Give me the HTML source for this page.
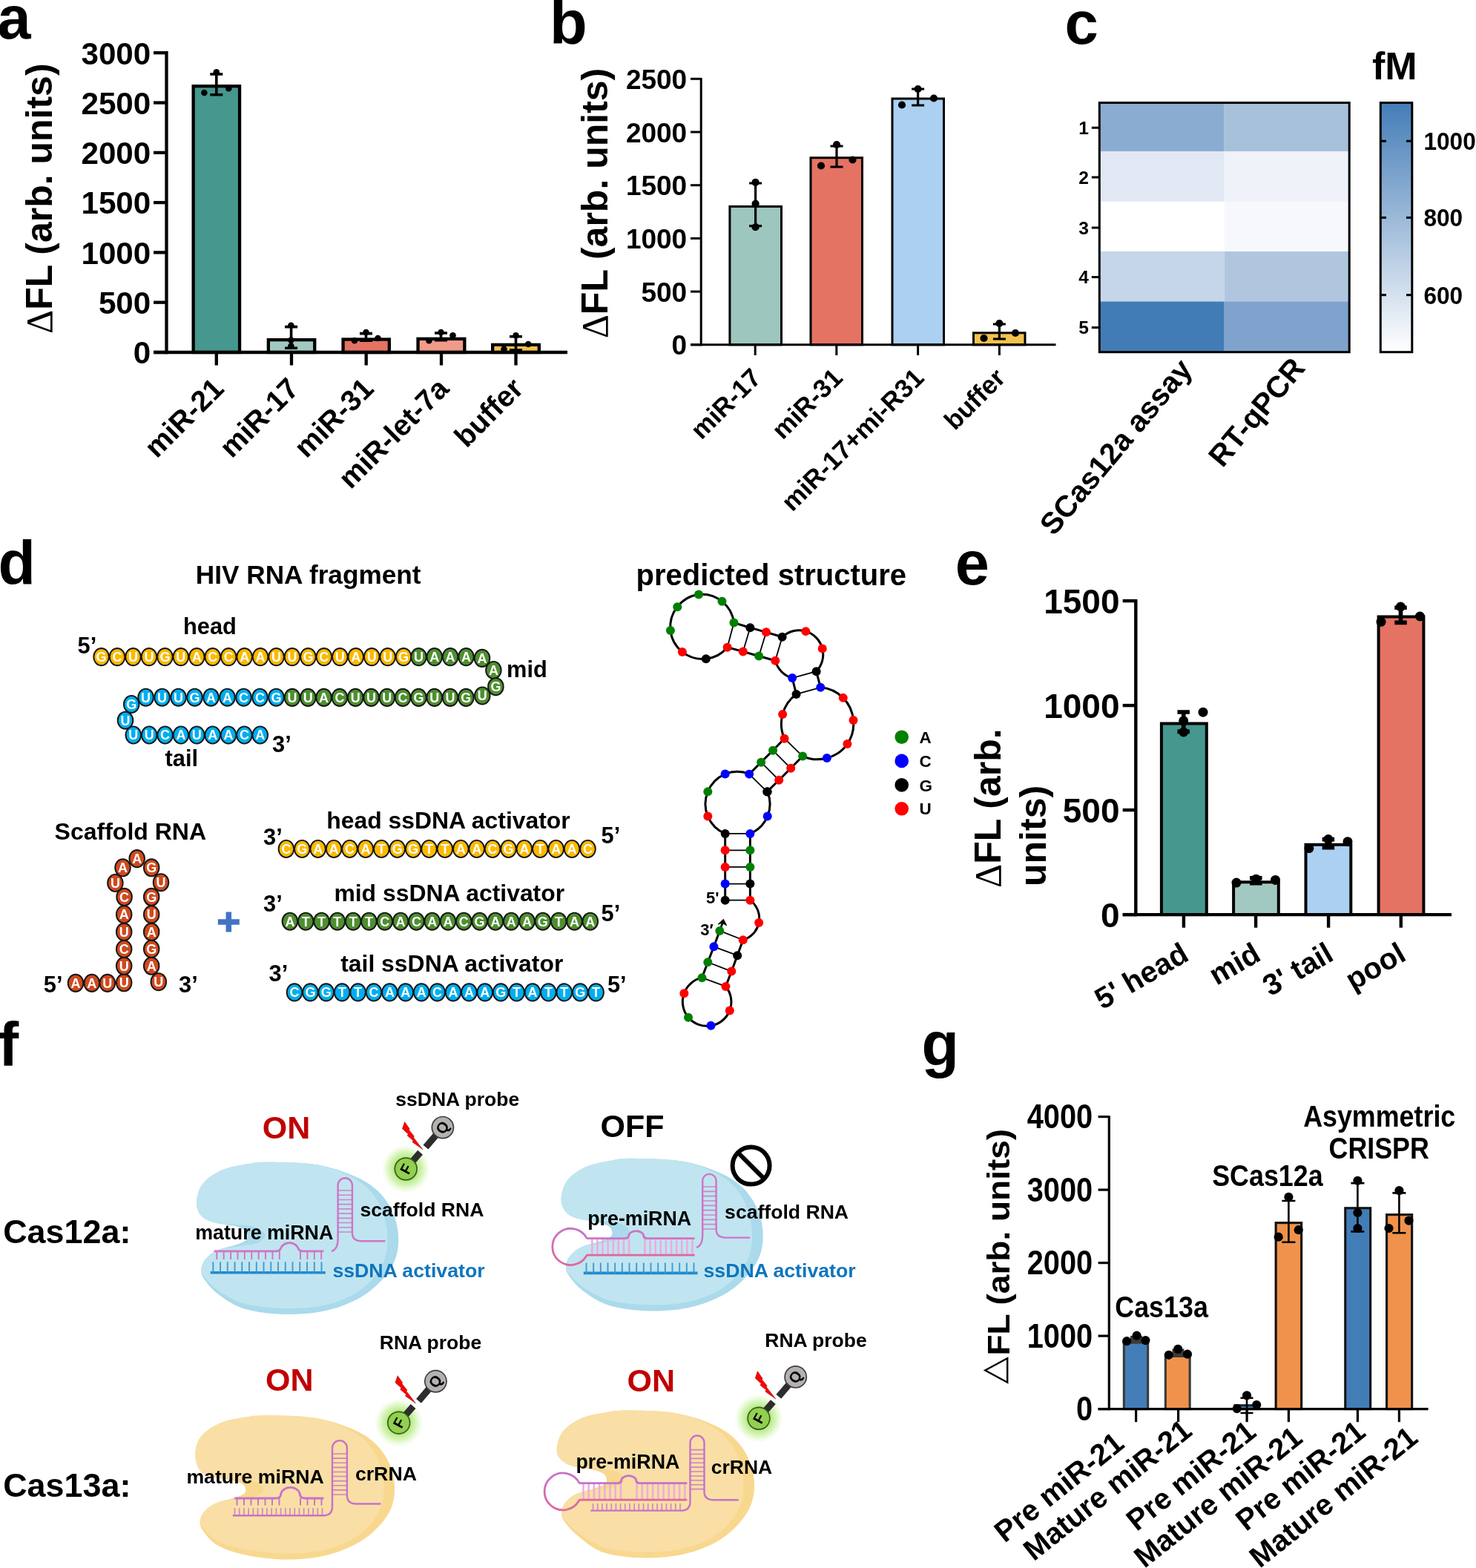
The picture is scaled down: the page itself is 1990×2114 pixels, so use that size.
<!DOCTYPE html>
<html lang="en"><head><meta charset="utf-8"><title>Figure</title><style>html,body{margin:0;padding:0;background:#fff}body{width:1990px;height:2114px;overflow:hidden}svg{display:block}</style></head><body>
<svg xmlns="http://www.w3.org/2000/svg" width="1990" height="2114" viewBox="0 0 1990 2114" font-family='"Liberation Sans", Arial, Helvetica, sans-serif' font-weight="bold">
<rect width="1990" height="2114" fill="#fff"/>
<rect x="260.65" y="116.15" width="62.40" height="358.85" fill="#46978d" stroke="#000" stroke-width="4.3"/>
<rect x="361.85" y="458.15" width="62.40" height="16.85" fill="#a1c9c1" stroke="#000" stroke-width="4.3"/>
<rect x="462.55" y="457.55" width="62.30" height="17.45" fill="#e57364" stroke="#000" stroke-width="4.3"/>
<rect x="563.55" y="456.85" width="62.80" height="18.15" fill="#f29a8a" stroke="#000" stroke-width="4.3"/>
<rect x="664.15" y="464.85" width="62.70" height="10.15" fill="#f3c24f" stroke="#000" stroke-width="4.3"/>
<line x1="224.50" y1="69.00" x2="224.50" y2="477.15" stroke="#000" stroke-width="4.3"/>
<line x1="207.40" y1="475.00" x2="765.00" y2="475.00" stroke="#000" stroke-width="4.3"/>
<line x1="207.00" y1="475.00" x2="224.50" y2="475.00" stroke="#000" stroke-width="4.3"/>
<text x="203.30" y="490.30" font-size="42.2" text-anchor="end">0</text>
<line x1="207.00" y1="407.70" x2="224.50" y2="407.70" stroke="#000" stroke-width="4.3"/>
<text x="203.30" y="423.00" font-size="42.2" text-anchor="end">500</text>
<line x1="207.00" y1="340.40" x2="224.50" y2="340.40" stroke="#000" stroke-width="4.3"/>
<text x="203.30" y="355.70" font-size="42.2" text-anchor="end">1000</text>
<line x1="207.00" y1="273.10" x2="224.50" y2="273.10" stroke="#000" stroke-width="4.3"/>
<text x="203.30" y="288.40" font-size="42.2" text-anchor="end">1500</text>
<line x1="207.00" y1="205.80" x2="224.50" y2="205.80" stroke="#000" stroke-width="4.3"/>
<text x="203.30" y="221.10" font-size="42.2" text-anchor="end">2000</text>
<line x1="207.00" y1="138.50" x2="224.50" y2="138.50" stroke="#000" stroke-width="4.3"/>
<text x="203.30" y="153.80" font-size="42.2" text-anchor="end">2500</text>
<line x1="207.00" y1="71.20" x2="224.50" y2="71.20" stroke="#000" stroke-width="4.3"/>
<text x="203.30" y="86.50" font-size="42.2" text-anchor="end">3000</text>
<line x1="291.80" y1="475.00" x2="291.80" y2="492.50" stroke="#000" stroke-width="4.3"/>
<line x1="393.00" y1="475.00" x2="393.00" y2="492.50" stroke="#000" stroke-width="4.3"/>
<line x1="493.70" y1="475.00" x2="493.70" y2="492.50" stroke="#000" stroke-width="4.3"/>
<line x1="595.00" y1="475.00" x2="595.00" y2="492.50" stroke="#000" stroke-width="4.3"/>
<line x1="695.50" y1="475.00" x2="695.50" y2="492.50" stroke="#000" stroke-width="4.3"/>
<text x="0" y="0" font-size="50" transform="translate(69.50 450.00) rotate(-90)"><tspan font-weight="normal" font-family="Liberation Serif, serif">&#916;</tspan>FL (arb. units)</text>
<path d="M283.30 100.00H300.30M283.30 127.80H300.30M291.80 100.00V127.80" stroke="#000" stroke-width="3.6" fill="none"/>
<path d="M384.10 440.60H401.10M384.10 469.20H401.10M392.60 440.60V469.20" stroke="#000" stroke-width="3.6" fill="none"/>
<path d="M485.00 449.60H502.00M485.00 459.20H502.00M493.50 449.60V459.20" stroke="#000" stroke-width="3.6" fill="none"/>
<path d="M586.00 449.00H603.00M586.00 458.60H603.00M594.50 449.00V458.60" stroke="#000" stroke-width="3.6" fill="none"/>
<path d="M687.00 453.80H704.00M687.00 472.00H704.00M695.50 453.80V472.00" stroke="#000" stroke-width="3.6" fill="none"/>
<circle cx="291.80" cy="97.30" r="4.3" fill="#000"/>
<circle cx="275.40" cy="125.00" r="4.3" fill="#000"/>
<circle cx="308.30" cy="119.30" r="4.3" fill="#000"/>
<circle cx="392.40" cy="438.70" r="4.3" fill="#000"/>
<circle cx="392.40" cy="458.60" r="4.3" fill="#000"/>
<circle cx="392.40" cy="466.60" r="4.3" fill="#000"/>
<circle cx="493.50" cy="448.00" r="4.3" fill="#000"/>
<circle cx="478.00" cy="459.20" r="4.3" fill="#000"/>
<circle cx="509.50" cy="456.00" r="4.3" fill="#000"/>
<circle cx="594.50" cy="448.00" r="4.3" fill="#000"/>
<circle cx="578.40" cy="459.20" r="4.3" fill="#000"/>
<circle cx="610.50" cy="452.20" r="4.3" fill="#000"/>
<circle cx="695.50" cy="452.20" r="4.3" fill="#000"/>
<circle cx="679.50" cy="470.80" r="4.3" fill="#000"/>
<circle cx="712.20" cy="464.00" r="4.3" fill="#000"/>
<text x="0" y="0" font-size="39.4" text-anchor="end" transform="translate(304.10 526.20) rotate(-45)">miR-21</text>
<text x="0" y="0" font-size="39.4" text-anchor="end" transform="translate(405.30 526.20) rotate(-45)">miR-17</text>
<text x="0" y="0" font-size="39.4" text-anchor="end" transform="translate(506.00 526.20) rotate(-45)">miR-31</text>
<text x="0" y="0" font-size="39.4" text-anchor="end" transform="translate(607.30 526.20) rotate(-45)">miR-let-7a</text>
<text x="0" y="0" font-size="39.4" text-anchor="end" transform="translate(707.80 526.20) rotate(-45)">buffer</text>
<rect x="983.90" y="278.40" width="69.60" height="186.40" fill="#9dc6be" stroke="#000" stroke-width="3.0"/>
<rect x="1093.00" y="212.70" width="69.50" height="252.10" fill="#e57364" stroke="#000" stroke-width="3.0"/>
<rect x="1203.00" y="133.00" width="69.50" height="331.80" fill="#abd0f1" stroke="#000" stroke-width="3.0"/>
<rect x="1312.50" y="448.80" width="69.50" height="16.00" fill="#f3c24f" stroke="#000" stroke-width="3.0"/>
<line x1="945.20" y1="105.00" x2="945.20" y2="466.30" stroke="#000" stroke-width="3.0"/>
<line x1="931.00" y1="464.80" x2="1423.50" y2="464.80" stroke="#000" stroke-width="3.0"/>
<line x1="931.00" y1="464.80" x2="945.20" y2="464.80" stroke="#000" stroke-width="3.0"/>
<text x="926.20" y="478.40" font-size="37.0" text-anchor="end">0</text>
<line x1="931.00" y1="393.10" x2="945.20" y2="393.10" stroke="#000" stroke-width="3.0"/>
<text x="926.20" y="406.70" font-size="37.0" text-anchor="end">500</text>
<line x1="931.00" y1="321.40" x2="945.20" y2="321.40" stroke="#000" stroke-width="3.0"/>
<text x="926.20" y="335.00" font-size="37.0" text-anchor="end">1000</text>
<line x1="931.00" y1="249.70" x2="945.20" y2="249.70" stroke="#000" stroke-width="3.0"/>
<text x="926.20" y="263.30" font-size="37.0" text-anchor="end">1500</text>
<line x1="931.00" y1="178.00" x2="945.20" y2="178.00" stroke="#000" stroke-width="3.0"/>
<text x="926.20" y="191.60" font-size="37.0" text-anchor="end">2000</text>
<line x1="931.00" y1="106.30" x2="945.20" y2="106.30" stroke="#000" stroke-width="3.0"/>
<text x="926.20" y="119.90" font-size="37.0" text-anchor="end">2500</text>
<line x1="1018.20" y1="464.80" x2="1018.20" y2="479.00" stroke="#000" stroke-width="3.0"/>
<line x1="1127.80" y1="464.80" x2="1127.80" y2="479.00" stroke="#000" stroke-width="3.0"/>
<line x1="1237.60" y1="464.80" x2="1237.60" y2="479.00" stroke="#000" stroke-width="3.0"/>
<line x1="1347.40" y1="464.80" x2="1347.40" y2="479.00" stroke="#000" stroke-width="3.0"/>
<text x="0" y="0" font-size="50" transform="translate(819.00 456.30) rotate(-90)"><tspan font-weight="normal" font-family="Liberation Serif, serif">&#916;</tspan>FL (arb. units)</text>
<path d="M1010.10 247.00H1027.10M1010.10 304.60H1027.10M1018.60 247.00V304.60" stroke="#000" stroke-width="3.2" fill="none"/>
<path d="M1119.50 197.00H1136.50M1119.50 225.00H1136.50M1128.00 197.00V225.00" stroke="#000" stroke-width="3.2" fill="none"/>
<path d="M1229.10 120.00H1246.10M1229.10 142.00H1246.10M1237.60 120.00V142.00" stroke="#000" stroke-width="3.2" fill="none"/>
<path d="M1338.90 437.00H1355.90M1338.90 457.00H1355.90M1347.40 437.00V457.00" stroke="#000" stroke-width="3.2" fill="none"/>
<circle cx="1018.60" cy="245.90" r="5.1" fill="#000"/>
<circle cx="1018.60" cy="274.70" r="5.1" fill="#000"/>
<circle cx="1018.60" cy="306.20" r="5.1" fill="#000"/>
<circle cx="1128.00" cy="195.00" r="5.1" fill="#000"/>
<circle cx="1107.00" cy="223.50" r="5.1" fill="#000"/>
<circle cx="1149.50" cy="215.50" r="5.1" fill="#000"/>
<circle cx="1237.60" cy="120.00" r="5.1" fill="#000"/>
<circle cx="1216.00" cy="141.50" r="5.1" fill="#000"/>
<circle cx="1259.00" cy="132.50" r="5.1" fill="#000"/>
<circle cx="1347.40" cy="436.00" r="5.1" fill="#000"/>
<circle cx="1326.50" cy="456.00" r="5.1" fill="#000"/>
<circle cx="1369.00" cy="449.00" r="5.1" fill="#000"/>
<text x="0" y="0" font-size="35" text-anchor="end" transform="translate(1028.30 511.50) rotate(-45)">miR-17</text>
<text x="0" y="0" font-size="35" text-anchor="end" transform="translate(1137.90 511.50) rotate(-45)">miR-31</text>
<text x="0" y="0" font-size="35" text-anchor="end" transform="translate(1247.70 511.50) rotate(-45)">miR-17+mi-R31</text>
<text x="0" y="0" font-size="35" text-anchor="end" transform="translate(1357.50 511.50) rotate(-45)">buffer</text>
<rect x="1482.30" y="138.50" width="168.40" height="66.00" fill="#8bacd1"/>
<rect x="1650.70" y="138.50" width="168.50" height="66.00" fill="#a8c1db"/>
<rect x="1482.30" y="204.00" width="168.40" height="68.10" fill="#e1e8f3"/>
<rect x="1650.70" y="204.00" width="168.50" height="68.10" fill="#eff2f8"/>
<rect x="1482.30" y="271.60" width="168.40" height="67.90" fill="#ffffff"/>
<rect x="1650.70" y="271.60" width="168.50" height="67.90" fill="#f7f8fc"/>
<rect x="1482.30" y="339.00" width="168.40" height="68.10" fill="#c5d6e9"/>
<rect x="1650.70" y="339.00" width="168.50" height="68.10" fill="#b0c6df"/>
<rect x="1482.30" y="406.60" width="168.40" height="68.60" fill="#427cb6"/>
<rect x="1650.70" y="406.60" width="168.50" height="68.60" fill="#7fa3cc"/>
<rect x="1482.30" y="138.50" width="336.90" height="336.20" fill="none" stroke="#000" stroke-width="3"/>
<line x1="1471.80" y1="172.20" x2="1481.00" y2="172.20" stroke="#000" stroke-width="3"/>
<text x="1468.00" y="181.00" font-size="24.6" text-anchor="end">1</text>
<line x1="1471.80" y1="239.00" x2="1481.00" y2="239.00" stroke="#000" stroke-width="3"/>
<text x="1468.00" y="247.80" font-size="24.6" text-anchor="end">2</text>
<line x1="1471.80" y1="307.00" x2="1481.00" y2="307.00" stroke="#000" stroke-width="3"/>
<text x="1468.00" y="315.80" font-size="24.6" text-anchor="end">3</text>
<line x1="1471.80" y1="373.60" x2="1481.00" y2="373.60" stroke="#000" stroke-width="3"/>
<text x="1468.00" y="382.40" font-size="24.6" text-anchor="end">4</text>
<line x1="1471.80" y1="441.60" x2="1481.00" y2="441.60" stroke="#000" stroke-width="3"/>
<text x="1468.00" y="450.40" font-size="24.6" text-anchor="end">5</text>
<defs><linearGradient id="cb" x1="0" y1="0" x2="0" y2="1"><stop offset="0" stop-color="#447db7"/><stop offset="0.5" stop-color="#a3bedb"/><stop offset="1" stop-color="#ffffff"/></linearGradient></defs>
<rect x="1861.30" y="138.50" width="42.50" height="336.20" fill="url(#cb)" stroke="#000" stroke-width="3"/>
<line x1="1862.00" y1="190.20" x2="1869.00" y2="190.20" stroke="#000" stroke-width="3"/>
<line x1="1896.00" y1="190.20" x2="1903.00" y2="190.20" stroke="#000" stroke-width="3"/>
<text transform="translate(1919.4 202.20) scale(0.93 1)" font-size="34">1000</text>
<line x1="1862.00" y1="293.40" x2="1869.00" y2="293.40" stroke="#000" stroke-width="3"/>
<line x1="1896.00" y1="293.40" x2="1903.00" y2="293.40" stroke="#000" stroke-width="3"/>
<text transform="translate(1919.4 305.40) scale(0.93 1)" font-size="34">800</text>
<line x1="1862.00" y1="397.70" x2="1869.00" y2="397.70" stroke="#000" stroke-width="3"/>
<line x1="1896.00" y1="397.70" x2="1903.00" y2="397.70" stroke="#000" stroke-width="3"/>
<text transform="translate(1919.4 409.70) scale(0.93 1)" font-size="34">600</text>
<text x="1850.00" y="107.40" font-size="52">fM</text>
<text x="0" y="0" font-size="40.6" text-anchor="end" transform="translate(1609.30 499.00) rotate(-50)">SCas12a assay</text>
<text x="0" y="0" font-size="40.6" text-anchor="end" transform="translate(1761.30 497.00) rotate(-50)">RT-qPCR</text>
<text x="263.80" y="786.90" font-size="35.2">HIV RNA fragment</text>
<text x="247.00" y="854.60" font-size="30.8">head</text>
<text x="104.50" y="880.50" font-size="30.8">5’</text>
<text x="683.00" y="913.40" font-size="30.8">mid</text>
<text x="367.00" y="1014.00" font-size="30.8">3’</text>
<text x="222.50" y="1032.60" font-size="30.8">tail</text>
<ellipse cx="136.60" cy="885.60" rx="10.3" ry="11.6" fill="#fdb900" stroke="#151515" stroke-width="1.9"/>
<text x="136.60" y="892.08" font-size="18" text-anchor="middle" fill="#fff">G</text>
<ellipse cx="158.05" cy="885.60" rx="10.3" ry="11.6" fill="#fdb900" stroke="#151515" stroke-width="1.9"/>
<text x="158.05" y="892.08" font-size="18" text-anchor="middle" fill="#fff">C</text>
<ellipse cx="179.49" cy="885.60" rx="10.3" ry="11.6" fill="#fdb900" stroke="#151515" stroke-width="1.9"/>
<text x="179.49" y="892.08" font-size="18" text-anchor="middle" fill="#fff">U</text>
<ellipse cx="200.94" cy="885.60" rx="10.3" ry="11.6" fill="#fdb900" stroke="#151515" stroke-width="1.9"/>
<text x="200.94" y="892.08" font-size="18" text-anchor="middle" fill="#fff">U</text>
<ellipse cx="222.39" cy="885.60" rx="10.3" ry="11.6" fill="#fdb900" stroke="#151515" stroke-width="1.9"/>
<text x="222.39" y="892.08" font-size="18" text-anchor="middle" fill="#fff">G</text>
<ellipse cx="243.84" cy="885.60" rx="10.3" ry="11.6" fill="#fdb900" stroke="#151515" stroke-width="1.9"/>
<text x="243.84" y="892.08" font-size="18" text-anchor="middle" fill="#fff">U</text>
<ellipse cx="265.28" cy="885.60" rx="10.3" ry="11.6" fill="#fdb900" stroke="#151515" stroke-width="1.9"/>
<text x="265.28" y="892.08" font-size="18" text-anchor="middle" fill="#fff">A</text>
<ellipse cx="286.73" cy="885.60" rx="10.3" ry="11.6" fill="#fdb900" stroke="#151515" stroke-width="1.9"/>
<text x="286.73" y="892.08" font-size="18" text-anchor="middle" fill="#fff">C</text>
<ellipse cx="308.18" cy="885.60" rx="10.3" ry="11.6" fill="#fdb900" stroke="#151515" stroke-width="1.9"/>
<text x="308.18" y="892.08" font-size="18" text-anchor="middle" fill="#fff">C</text>
<ellipse cx="329.63" cy="885.60" rx="10.3" ry="11.6" fill="#fdb900" stroke="#151515" stroke-width="1.9"/>
<text x="329.63" y="892.08" font-size="18" text-anchor="middle" fill="#fff">A</text>
<ellipse cx="351.07" cy="885.60" rx="10.3" ry="11.6" fill="#fdb900" stroke="#151515" stroke-width="1.9"/>
<text x="351.07" y="892.08" font-size="18" text-anchor="middle" fill="#fff">A</text>
<ellipse cx="372.52" cy="885.60" rx="10.3" ry="11.6" fill="#fdb900" stroke="#151515" stroke-width="1.9"/>
<text x="372.52" y="892.08" font-size="18" text-anchor="middle" fill="#fff">U</text>
<ellipse cx="393.97" cy="885.60" rx="10.3" ry="11.6" fill="#fdb900" stroke="#151515" stroke-width="1.9"/>
<text x="393.97" y="892.08" font-size="18" text-anchor="middle" fill="#fff">U</text>
<ellipse cx="415.42" cy="885.60" rx="10.3" ry="11.6" fill="#fdb900" stroke="#151515" stroke-width="1.9"/>
<text x="415.42" y="892.08" font-size="18" text-anchor="middle" fill="#fff">G</text>
<ellipse cx="436.86" cy="885.60" rx="10.3" ry="11.6" fill="#fdb900" stroke="#151515" stroke-width="1.9"/>
<text x="436.86" y="892.08" font-size="18" text-anchor="middle" fill="#fff">C</text>
<ellipse cx="458.31" cy="885.60" rx="10.3" ry="11.6" fill="#fdb900" stroke="#151515" stroke-width="1.9"/>
<text x="458.31" y="892.08" font-size="18" text-anchor="middle" fill="#fff">U</text>
<ellipse cx="479.76" cy="885.60" rx="10.3" ry="11.6" fill="#fdb900" stroke="#151515" stroke-width="1.9"/>
<text x="479.76" y="892.08" font-size="18" text-anchor="middle" fill="#fff">A</text>
<ellipse cx="501.21" cy="885.60" rx="10.3" ry="11.6" fill="#fdb900" stroke="#151515" stroke-width="1.9"/>
<text x="501.21" y="892.08" font-size="18" text-anchor="middle" fill="#fff">U</text>
<ellipse cx="522.65" cy="885.60" rx="10.3" ry="11.6" fill="#fdb900" stroke="#151515" stroke-width="1.9"/>
<text x="522.65" y="892.08" font-size="18" text-anchor="middle" fill="#fff">U</text>
<ellipse cx="544.10" cy="885.60" rx="10.3" ry="11.6" fill="#fdb900" stroke="#151515" stroke-width="1.9"/>
<text x="544.10" y="892.08" font-size="18" text-anchor="middle" fill="#fff">G</text>
<ellipse cx="564.50" cy="885.60" rx="10.3" ry="11.6" fill="#4e8f2f" stroke="#151515" stroke-width="1.9"/>
<text x="564.50" y="892.08" font-size="18" text-anchor="middle" fill="#fff">U</text>
<ellipse cx="585.80" cy="885.60" rx="10.3" ry="11.6" fill="#4e8f2f" stroke="#151515" stroke-width="1.9"/>
<text x="585.80" y="892.08" font-size="18" text-anchor="middle" fill="#fff">A</text>
<ellipse cx="607.10" cy="885.60" rx="10.3" ry="11.6" fill="#4e8f2f" stroke="#151515" stroke-width="1.9"/>
<text x="607.10" y="892.08" font-size="18" text-anchor="middle" fill="#fff">A</text>
<ellipse cx="628.40" cy="885.60" rx="10.3" ry="11.6" fill="#4e8f2f" stroke="#151515" stroke-width="1.9"/>
<text x="628.40" y="892.08" font-size="18" text-anchor="middle" fill="#fff">A</text>
<ellipse cx="650.00" cy="887.40" rx="10.3" ry="11.6" fill="#4e8f2f" stroke="#151515" stroke-width="1.9"/>
<text x="650.00" y="893.88" font-size="18" text-anchor="middle" fill="#fff">A</text>
<ellipse cx="665.40" cy="903.50" rx="10.3" ry="11.6" fill="#4e8f2f" stroke="#151515" stroke-width="1.9"/>
<text x="665.40" y="909.98" font-size="18" text-anchor="middle" fill="#fff">A</text>
<ellipse cx="668.40" cy="925.70" rx="10.3" ry="11.6" fill="#4e8f2f" stroke="#151515" stroke-width="1.9"/>
<text x="668.40" y="932.18" font-size="18" text-anchor="middle" fill="#fff">G</text>
<ellipse cx="650.30" cy="938.00" rx="10.3" ry="11.6" fill="#4e8f2f" stroke="#151515" stroke-width="1.9"/>
<text x="650.30" y="944.48" font-size="18" text-anchor="middle" fill="#fff">U</text>
<ellipse cx="394.00" cy="940.40" rx="10.3" ry="11.6" fill="#4e8f2f" stroke="#151515" stroke-width="1.9"/>
<text x="394.00" y="946.88" font-size="18" text-anchor="middle" fill="#fff">U</text>
<ellipse cx="415.30" cy="940.40" rx="10.3" ry="11.6" fill="#4e8f2f" stroke="#151515" stroke-width="1.9"/>
<text x="415.30" y="946.88" font-size="18" text-anchor="middle" fill="#fff">U</text>
<ellipse cx="436.60" cy="940.40" rx="10.3" ry="11.6" fill="#4e8f2f" stroke="#151515" stroke-width="1.9"/>
<text x="436.60" y="946.88" font-size="18" text-anchor="middle" fill="#fff">A</text>
<ellipse cx="457.90" cy="940.40" rx="10.3" ry="11.6" fill="#4e8f2f" stroke="#151515" stroke-width="1.9"/>
<text x="457.90" y="946.88" font-size="18" text-anchor="middle" fill="#fff">C</text>
<ellipse cx="479.20" cy="940.40" rx="10.3" ry="11.6" fill="#4e8f2f" stroke="#151515" stroke-width="1.9"/>
<text x="479.20" y="946.88" font-size="18" text-anchor="middle" fill="#fff">U</text>
<ellipse cx="500.50" cy="940.40" rx="10.3" ry="11.6" fill="#4e8f2f" stroke="#151515" stroke-width="1.9"/>
<text x="500.50" y="946.88" font-size="18" text-anchor="middle" fill="#fff">U</text>
<ellipse cx="521.80" cy="940.40" rx="10.3" ry="11.6" fill="#4e8f2f" stroke="#151515" stroke-width="1.9"/>
<text x="521.80" y="946.88" font-size="18" text-anchor="middle" fill="#fff">U</text>
<ellipse cx="543.10" cy="940.40" rx="10.3" ry="11.6" fill="#4e8f2f" stroke="#151515" stroke-width="1.9"/>
<text x="543.10" y="946.88" font-size="18" text-anchor="middle" fill="#fff">C</text>
<ellipse cx="564.40" cy="940.40" rx="10.3" ry="11.6" fill="#4e8f2f" stroke="#151515" stroke-width="1.9"/>
<text x="564.40" y="946.88" font-size="18" text-anchor="middle" fill="#fff">G</text>
<ellipse cx="585.70" cy="940.40" rx="10.3" ry="11.6" fill="#4e8f2f" stroke="#151515" stroke-width="1.9"/>
<text x="585.70" y="946.88" font-size="18" text-anchor="middle" fill="#fff">U</text>
<ellipse cx="607.00" cy="940.40" rx="10.3" ry="11.6" fill="#4e8f2f" stroke="#151515" stroke-width="1.9"/>
<text x="607.00" y="946.88" font-size="18" text-anchor="middle" fill="#fff">U</text>
<ellipse cx="628.30" cy="940.40" rx="10.3" ry="11.6" fill="#4e8f2f" stroke="#151515" stroke-width="1.9"/>
<text x="628.30" y="946.88" font-size="18" text-anchor="middle" fill="#fff">G</text>
<ellipse cx="196.60" cy="940.20" rx="10.3" ry="11.6" fill="#00aeef" stroke="#151515" stroke-width="1.9"/>
<text x="196.60" y="946.68" font-size="18" text-anchor="middle" fill="#fff">U</text>
<ellipse cx="218.57" cy="940.20" rx="10.3" ry="11.6" fill="#00aeef" stroke="#151515" stroke-width="1.9"/>
<text x="218.57" y="946.68" font-size="18" text-anchor="middle" fill="#fff">U</text>
<ellipse cx="240.55" cy="940.20" rx="10.3" ry="11.6" fill="#00aeef" stroke="#151515" stroke-width="1.9"/>
<text x="240.55" y="946.68" font-size="18" text-anchor="middle" fill="#fff">U</text>
<ellipse cx="262.52" cy="940.20" rx="10.3" ry="11.6" fill="#00aeef" stroke="#151515" stroke-width="1.9"/>
<text x="262.52" y="946.68" font-size="18" text-anchor="middle" fill="#fff">G</text>
<ellipse cx="284.50" cy="940.20" rx="10.3" ry="11.6" fill="#00aeef" stroke="#151515" stroke-width="1.9"/>
<text x="284.50" y="946.68" font-size="18" text-anchor="middle" fill="#fff">A</text>
<ellipse cx="306.47" cy="940.20" rx="10.3" ry="11.6" fill="#00aeef" stroke="#151515" stroke-width="1.9"/>
<text x="306.47" y="946.68" font-size="18" text-anchor="middle" fill="#fff">A</text>
<ellipse cx="328.45" cy="940.20" rx="10.3" ry="11.6" fill="#00aeef" stroke="#151515" stroke-width="1.9"/>
<text x="328.45" y="946.68" font-size="18" text-anchor="middle" fill="#fff">C</text>
<ellipse cx="350.42" cy="940.20" rx="10.3" ry="11.6" fill="#00aeef" stroke="#151515" stroke-width="1.9"/>
<text x="350.42" y="946.68" font-size="18" text-anchor="middle" fill="#fff">C</text>
<ellipse cx="372.40" cy="940.20" rx="10.3" ry="11.6" fill="#00aeef" stroke="#151515" stroke-width="1.9"/>
<text x="372.40" y="946.68" font-size="18" text-anchor="middle" fill="#fff">G</text>
<ellipse cx="177.20" cy="949.50" rx="10.3" ry="11.6" fill="#00aeef" stroke="#151515" stroke-width="1.9"/>
<text x="177.20" y="955.98" font-size="18" text-anchor="middle" fill="#fff">G</text>
<ellipse cx="169.00" cy="971.20" rx="10.3" ry="11.6" fill="#00aeef" stroke="#151515" stroke-width="1.9"/>
<text x="169.00" y="977.68" font-size="18" text-anchor="middle" fill="#fff">U</text>
<ellipse cx="179.80" cy="991.00" rx="10.3" ry="11.6" fill="#00aeef" stroke="#151515" stroke-width="1.9"/>
<text x="179.80" y="997.48" font-size="18" text-anchor="middle" fill="#fff">U</text>
<ellipse cx="201.17" cy="991.00" rx="10.3" ry="11.6" fill="#00aeef" stroke="#151515" stroke-width="1.9"/>
<text x="201.17" y="997.48" font-size="18" text-anchor="middle" fill="#fff">U</text>
<ellipse cx="222.54" cy="991.00" rx="10.3" ry="11.6" fill="#00aeef" stroke="#151515" stroke-width="1.9"/>
<text x="222.54" y="997.48" font-size="18" text-anchor="middle" fill="#fff">C</text>
<ellipse cx="243.91" cy="991.00" rx="10.3" ry="11.6" fill="#00aeef" stroke="#151515" stroke-width="1.9"/>
<text x="243.91" y="997.48" font-size="18" text-anchor="middle" fill="#fff">A</text>
<ellipse cx="265.28" cy="991.00" rx="10.3" ry="11.6" fill="#00aeef" stroke="#151515" stroke-width="1.9"/>
<text x="265.28" y="997.48" font-size="18" text-anchor="middle" fill="#fff">U</text>
<ellipse cx="286.65" cy="991.00" rx="10.3" ry="11.6" fill="#00aeef" stroke="#151515" stroke-width="1.9"/>
<text x="286.65" y="997.48" font-size="18" text-anchor="middle" fill="#fff">A</text>
<ellipse cx="308.02" cy="991.00" rx="10.3" ry="11.6" fill="#00aeef" stroke="#151515" stroke-width="1.9"/>
<text x="308.02" y="997.48" font-size="18" text-anchor="middle" fill="#fff">A</text>
<ellipse cx="329.39" cy="991.00" rx="10.3" ry="11.6" fill="#00aeef" stroke="#151515" stroke-width="1.9"/>
<text x="329.39" y="997.48" font-size="18" text-anchor="middle" fill="#fff">C</text>
<ellipse cx="350.76" cy="991.00" rx="10.3" ry="11.6" fill="#00aeef" stroke="#151515" stroke-width="1.9"/>
<text x="350.76" y="997.48" font-size="18" text-anchor="middle" fill="#fff">A</text>
<text x="73.60" y="1132.40" font-size="32.0">Scaffold RNA</text>
<ellipse cx="102.00" cy="1325.40" rx="10.3" ry="11.6" fill="#cf4a1e" stroke="#151515" stroke-width="1.9"/>
<text x="102.00" y="1331.88" font-size="18" text-anchor="middle" fill="#fff">A</text>
<ellipse cx="123.80" cy="1325.40" rx="10.3" ry="11.6" fill="#cf4a1e" stroke="#151515" stroke-width="1.9"/>
<text x="123.80" y="1331.88" font-size="18" text-anchor="middle" fill="#fff">A</text>
<ellipse cx="144.80" cy="1325.40" rx="10.3" ry="11.6" fill="#cf4a1e" stroke="#151515" stroke-width="1.9"/>
<text x="144.80" y="1331.88" font-size="18" text-anchor="middle" fill="#fff">U</text>
<ellipse cx="167.20" cy="1324.80" rx="10.3" ry="11.6" fill="#cf4a1e" stroke="#151515" stroke-width="1.9"/>
<text x="167.20" y="1331.28" font-size="18" text-anchor="middle" fill="#fff">U</text>
<ellipse cx="167.20" cy="1302.30" rx="10.3" ry="11.6" fill="#cf4a1e" stroke="#151515" stroke-width="1.9"/>
<text x="167.20" y="1308.78" font-size="18" text-anchor="middle" fill="#fff">U</text>
<ellipse cx="167.20" cy="1279.50" rx="10.3" ry="11.6" fill="#cf4a1e" stroke="#151515" stroke-width="1.9"/>
<text x="167.20" y="1285.98" font-size="18" text-anchor="middle" fill="#fff">C</text>
<ellipse cx="167.20" cy="1256.40" rx="10.3" ry="11.6" fill="#cf4a1e" stroke="#151515" stroke-width="1.9"/>
<text x="167.20" y="1262.88" font-size="18" text-anchor="middle" fill="#fff">U</text>
<ellipse cx="167.20" cy="1232.90" rx="10.3" ry="11.6" fill="#cf4a1e" stroke="#151515" stroke-width="1.9"/>
<text x="167.20" y="1239.38" font-size="18" text-anchor="middle" fill="#fff">A</text>
<ellipse cx="167.60" cy="1209.30" rx="10.3" ry="11.6" fill="#cf4a1e" stroke="#151515" stroke-width="1.9"/>
<text x="167.60" y="1215.78" font-size="18" text-anchor="middle" fill="#fff">C</text>
<ellipse cx="155.40" cy="1190.50" rx="10.3" ry="11.6" fill="#cf4a1e" stroke="#151515" stroke-width="1.9"/>
<text x="155.40" y="1196.98" font-size="18" text-anchor="middle" fill="#fff">U</text>
<ellipse cx="165.50" cy="1169.80" rx="10.3" ry="11.6" fill="#cf4a1e" stroke="#151515" stroke-width="1.9"/>
<text x="165.50" y="1176.28" font-size="18" text-anchor="middle" fill="#fff">A</text>
<ellipse cx="184.70" cy="1157.60" rx="10.3" ry="11.6" fill="#cf4a1e" stroke="#151515" stroke-width="1.9"/>
<text x="184.70" y="1164.08" font-size="18" text-anchor="middle" fill="#fff">A</text>
<ellipse cx="204.20" cy="1169.80" rx="10.3" ry="11.6" fill="#cf4a1e" stroke="#151515" stroke-width="1.9"/>
<text x="204.20" y="1176.28" font-size="18" text-anchor="middle" fill="#fff">G</text>
<ellipse cx="217.00" cy="1189.70" rx="10.3" ry="11.6" fill="#cf4a1e" stroke="#151515" stroke-width="1.9"/>
<text x="217.00" y="1196.18" font-size="18" text-anchor="middle" fill="#fff">U</text>
<ellipse cx="204.20" cy="1209.30" rx="10.3" ry="11.6" fill="#cf4a1e" stroke="#151515" stroke-width="1.9"/>
<text x="204.20" y="1215.78" font-size="18" text-anchor="middle" fill="#fff">G</text>
<ellipse cx="204.20" cy="1232.90" rx="10.3" ry="11.6" fill="#cf4a1e" stroke="#151515" stroke-width="1.9"/>
<text x="204.20" y="1239.38" font-size="18" text-anchor="middle" fill="#fff">U</text>
<ellipse cx="204.20" cy="1256.40" rx="10.3" ry="11.6" fill="#cf4a1e" stroke="#151515" stroke-width="1.9"/>
<text x="204.20" y="1262.88" font-size="18" text-anchor="middle" fill="#fff">A</text>
<ellipse cx="204.20" cy="1279.50" rx="10.3" ry="11.6" fill="#cf4a1e" stroke="#151515" stroke-width="1.9"/>
<text x="204.20" y="1285.98" font-size="18" text-anchor="middle" fill="#fff">G</text>
<ellipse cx="204.20" cy="1302.30" rx="10.3" ry="11.6" fill="#cf4a1e" stroke="#151515" stroke-width="1.9"/>
<text x="204.20" y="1308.78" font-size="18" text-anchor="middle" fill="#fff">A</text>
<ellipse cx="213.80" cy="1323.70" rx="10.3" ry="11.6" fill="#cf4a1e" stroke="#151515" stroke-width="1.9"/>
<text x="213.80" y="1330.18" font-size="18" text-anchor="middle" fill="#fff">U</text>
<text x="58.80" y="1337.60" font-size="30.8">5’</text>
<text x="241.00" y="1337.60" font-size="30.8">3’</text>
<path d="M293.8 1243.1H322.8M308.3 1229.6V1256.6" stroke="#4472c4" stroke-width="7.5" fill="none"/>
<text x="440.30" y="1116.70" font-size="31.9">head ssDNA activator</text>
<text x="450.40" y="1214.80" font-size="31.9">mid ssDNA activator</text>
<text x="459.20" y="1310.00" font-size="31.9">tail ssDNA activator</text>
<text x="355.00" y="1138.50" font-size="30.8">3’</text>
<text x="810.50" y="1137.00" font-size="30.8">5’</text>
<text x="355.00" y="1229.00" font-size="30.8">3’</text>
<text x="810.50" y="1242.20" font-size="30.8">5’</text>
<text x="362.60" y="1323.40" font-size="30.8">3’</text>
<text x="818.90" y="1337.80" font-size="30.8">5’</text>
<ellipse cx="385.90" cy="1144.50" rx="10.3" ry="11.6" fill="#fdb900" stroke="#151515" stroke-width="1.9"/>
<text x="385.90" y="1150.98" font-size="18" text-anchor="middle" fill="#fff">C</text>
<ellipse cx="407.30" cy="1144.50" rx="10.3" ry="11.6" fill="#fdb900" stroke="#151515" stroke-width="1.9"/>
<text x="407.30" y="1150.98" font-size="18" text-anchor="middle" fill="#fff">G</text>
<ellipse cx="428.70" cy="1144.50" rx="10.3" ry="11.6" fill="#fdb900" stroke="#151515" stroke-width="1.9"/>
<text x="428.70" y="1150.98" font-size="18" text-anchor="middle" fill="#fff">A</text>
<ellipse cx="450.10" cy="1144.50" rx="10.3" ry="11.6" fill="#fdb900" stroke="#151515" stroke-width="1.9"/>
<text x="450.10" y="1150.98" font-size="18" text-anchor="middle" fill="#fff">A</text>
<ellipse cx="471.50" cy="1144.50" rx="10.3" ry="11.6" fill="#fdb900" stroke="#151515" stroke-width="1.9"/>
<text x="471.50" y="1150.98" font-size="18" text-anchor="middle" fill="#fff">C</text>
<ellipse cx="492.90" cy="1144.50" rx="10.3" ry="11.6" fill="#fdb900" stroke="#151515" stroke-width="1.9"/>
<text x="492.90" y="1150.98" font-size="18" text-anchor="middle" fill="#fff">A</text>
<ellipse cx="514.30" cy="1144.50" rx="10.3" ry="11.6" fill="#fdb900" stroke="#151515" stroke-width="1.9"/>
<text x="514.30" y="1150.98" font-size="18" text-anchor="middle" fill="#fff">T</text>
<ellipse cx="535.70" cy="1144.50" rx="10.3" ry="11.6" fill="#fdb900" stroke="#151515" stroke-width="1.9"/>
<text x="535.70" y="1150.98" font-size="18" text-anchor="middle" fill="#fff">G</text>
<ellipse cx="557.10" cy="1144.50" rx="10.3" ry="11.6" fill="#fdb900" stroke="#151515" stroke-width="1.9"/>
<text x="557.10" y="1150.98" font-size="18" text-anchor="middle" fill="#fff">G</text>
<ellipse cx="578.50" cy="1144.50" rx="10.3" ry="11.6" fill="#fdb900" stroke="#151515" stroke-width="1.9"/>
<text x="578.50" y="1150.98" font-size="18" text-anchor="middle" fill="#fff">T</text>
<ellipse cx="599.90" cy="1144.50" rx="10.3" ry="11.6" fill="#fdb900" stroke="#151515" stroke-width="1.9"/>
<text x="599.90" y="1150.98" font-size="18" text-anchor="middle" fill="#fff">T</text>
<ellipse cx="621.30" cy="1144.50" rx="10.3" ry="11.6" fill="#fdb900" stroke="#151515" stroke-width="1.9"/>
<text x="621.30" y="1150.98" font-size="18" text-anchor="middle" fill="#fff">A</text>
<ellipse cx="642.70" cy="1144.50" rx="10.3" ry="11.6" fill="#fdb900" stroke="#151515" stroke-width="1.9"/>
<text x="642.70" y="1150.98" font-size="18" text-anchor="middle" fill="#fff">A</text>
<ellipse cx="664.10" cy="1144.50" rx="10.3" ry="11.6" fill="#fdb900" stroke="#151515" stroke-width="1.9"/>
<text x="664.10" y="1150.98" font-size="18" text-anchor="middle" fill="#fff">C</text>
<ellipse cx="685.50" cy="1144.50" rx="10.3" ry="11.6" fill="#fdb900" stroke="#151515" stroke-width="1.9"/>
<text x="685.50" y="1150.98" font-size="18" text-anchor="middle" fill="#fff">G</text>
<ellipse cx="706.90" cy="1144.50" rx="10.3" ry="11.6" fill="#fdb900" stroke="#151515" stroke-width="1.9"/>
<text x="706.90" y="1150.98" font-size="18" text-anchor="middle" fill="#fff">A</text>
<ellipse cx="728.30" cy="1144.50" rx="10.3" ry="11.6" fill="#fdb900" stroke="#151515" stroke-width="1.9"/>
<text x="728.30" y="1150.98" font-size="18" text-anchor="middle" fill="#fff">T</text>
<ellipse cx="749.70" cy="1144.50" rx="10.3" ry="11.6" fill="#fdb900" stroke="#151515" stroke-width="1.9"/>
<text x="749.70" y="1150.98" font-size="18" text-anchor="middle" fill="#fff">A</text>
<ellipse cx="771.10" cy="1144.50" rx="10.3" ry="11.6" fill="#fdb900" stroke="#151515" stroke-width="1.9"/>
<text x="771.10" y="1150.98" font-size="18" text-anchor="middle" fill="#fff">A</text>
<ellipse cx="792.50" cy="1144.50" rx="10.3" ry="11.6" fill="#fdb900" stroke="#151515" stroke-width="1.9"/>
<text x="792.50" y="1150.98" font-size="18" text-anchor="middle" fill="#fff">C</text>
<ellipse cx="390.90" cy="1242.20" rx="10.3" ry="11.6" fill="#4e8f2f" stroke="#151515" stroke-width="1.9"/>
<text x="390.90" y="1248.68" font-size="18" text-anchor="middle" fill="#fff">A</text>
<ellipse cx="412.21" cy="1242.20" rx="10.3" ry="11.6" fill="#4e8f2f" stroke="#151515" stroke-width="1.9"/>
<text x="412.21" y="1248.68" font-size="18" text-anchor="middle" fill="#fff">T</text>
<ellipse cx="433.52" cy="1242.20" rx="10.3" ry="11.6" fill="#4e8f2f" stroke="#151515" stroke-width="1.9"/>
<text x="433.52" y="1248.68" font-size="18" text-anchor="middle" fill="#fff">T</text>
<ellipse cx="454.83" cy="1242.20" rx="10.3" ry="11.6" fill="#4e8f2f" stroke="#151515" stroke-width="1.9"/>
<text x="454.83" y="1248.68" font-size="18" text-anchor="middle" fill="#fff">T</text>
<ellipse cx="476.14" cy="1242.20" rx="10.3" ry="11.6" fill="#4e8f2f" stroke="#151515" stroke-width="1.9"/>
<text x="476.14" y="1248.68" font-size="18" text-anchor="middle" fill="#fff">T</text>
<ellipse cx="497.45" cy="1242.20" rx="10.3" ry="11.6" fill="#4e8f2f" stroke="#151515" stroke-width="1.9"/>
<text x="497.45" y="1248.68" font-size="18" text-anchor="middle" fill="#fff">T</text>
<ellipse cx="518.76" cy="1242.20" rx="10.3" ry="11.6" fill="#4e8f2f" stroke="#151515" stroke-width="1.9"/>
<text x="518.76" y="1248.68" font-size="18" text-anchor="middle" fill="#fff">C</text>
<ellipse cx="540.07" cy="1242.20" rx="10.3" ry="11.6" fill="#4e8f2f" stroke="#151515" stroke-width="1.9"/>
<text x="540.07" y="1248.68" font-size="18" text-anchor="middle" fill="#fff">A</text>
<ellipse cx="561.38" cy="1242.20" rx="10.3" ry="11.6" fill="#4e8f2f" stroke="#151515" stroke-width="1.9"/>
<text x="561.38" y="1248.68" font-size="18" text-anchor="middle" fill="#fff">C</text>
<ellipse cx="582.69" cy="1242.20" rx="10.3" ry="11.6" fill="#4e8f2f" stroke="#151515" stroke-width="1.9"/>
<text x="582.69" y="1248.68" font-size="18" text-anchor="middle" fill="#fff">A</text>
<ellipse cx="604.01" cy="1242.20" rx="10.3" ry="11.6" fill="#4e8f2f" stroke="#151515" stroke-width="1.9"/>
<text x="604.01" y="1248.68" font-size="18" text-anchor="middle" fill="#fff">A</text>
<ellipse cx="625.32" cy="1242.20" rx="10.3" ry="11.6" fill="#4e8f2f" stroke="#151515" stroke-width="1.9"/>
<text x="625.32" y="1248.68" font-size="18" text-anchor="middle" fill="#fff">C</text>
<ellipse cx="646.63" cy="1242.20" rx="10.3" ry="11.6" fill="#4e8f2f" stroke="#151515" stroke-width="1.9"/>
<text x="646.63" y="1248.68" font-size="18" text-anchor="middle" fill="#fff">G</text>
<ellipse cx="667.94" cy="1242.20" rx="10.3" ry="11.6" fill="#4e8f2f" stroke="#151515" stroke-width="1.9"/>
<text x="667.94" y="1248.68" font-size="18" text-anchor="middle" fill="#fff">A</text>
<ellipse cx="689.25" cy="1242.20" rx="10.3" ry="11.6" fill="#4e8f2f" stroke="#151515" stroke-width="1.9"/>
<text x="689.25" y="1248.68" font-size="18" text-anchor="middle" fill="#fff">A</text>
<ellipse cx="710.56" cy="1242.20" rx="10.3" ry="11.6" fill="#4e8f2f" stroke="#151515" stroke-width="1.9"/>
<text x="710.56" y="1248.68" font-size="18" text-anchor="middle" fill="#fff">A</text>
<ellipse cx="731.87" cy="1242.20" rx="10.3" ry="11.6" fill="#4e8f2f" stroke="#151515" stroke-width="1.9"/>
<text x="731.87" y="1248.68" font-size="18" text-anchor="middle" fill="#fff">G</text>
<ellipse cx="753.18" cy="1242.20" rx="10.3" ry="11.6" fill="#4e8f2f" stroke="#151515" stroke-width="1.9"/>
<text x="753.18" y="1248.68" font-size="18" text-anchor="middle" fill="#fff">T</text>
<ellipse cx="774.49" cy="1242.20" rx="10.3" ry="11.6" fill="#4e8f2f" stroke="#151515" stroke-width="1.9"/>
<text x="774.49" y="1248.68" font-size="18" text-anchor="middle" fill="#fff">A</text>
<ellipse cx="795.80" cy="1242.20" rx="10.3" ry="11.6" fill="#4e8f2f" stroke="#151515" stroke-width="1.9"/>
<text x="795.80" y="1248.68" font-size="18" text-anchor="middle" fill="#fff">A</text>
<ellipse cx="397.00" cy="1337.90" rx="10.3" ry="11.6" fill="#00aeef" stroke="#151515" stroke-width="1.9"/>
<text x="397.00" y="1344.38" font-size="18" text-anchor="middle" fill="#fff">C</text>
<ellipse cx="418.40" cy="1337.90" rx="10.3" ry="11.6" fill="#00aeef" stroke="#151515" stroke-width="1.9"/>
<text x="418.40" y="1344.38" font-size="18" text-anchor="middle" fill="#fff">G</text>
<ellipse cx="439.80" cy="1337.90" rx="10.3" ry="11.6" fill="#00aeef" stroke="#151515" stroke-width="1.9"/>
<text x="439.80" y="1344.38" font-size="18" text-anchor="middle" fill="#fff">G</text>
<ellipse cx="461.20" cy="1337.90" rx="10.3" ry="11.6" fill="#00aeef" stroke="#151515" stroke-width="1.9"/>
<text x="461.20" y="1344.38" font-size="18" text-anchor="middle" fill="#fff">T</text>
<ellipse cx="482.60" cy="1337.90" rx="10.3" ry="11.6" fill="#00aeef" stroke="#151515" stroke-width="1.9"/>
<text x="482.60" y="1344.38" font-size="18" text-anchor="middle" fill="#fff">T</text>
<ellipse cx="504.00" cy="1337.90" rx="10.3" ry="11.6" fill="#00aeef" stroke="#151515" stroke-width="1.9"/>
<text x="504.00" y="1344.38" font-size="18" text-anchor="middle" fill="#fff">C</text>
<ellipse cx="525.40" cy="1337.90" rx="10.3" ry="11.6" fill="#00aeef" stroke="#151515" stroke-width="1.9"/>
<text x="525.40" y="1344.38" font-size="18" text-anchor="middle" fill="#fff">A</text>
<ellipse cx="546.80" cy="1337.90" rx="10.3" ry="11.6" fill="#00aeef" stroke="#151515" stroke-width="1.9"/>
<text x="546.80" y="1344.38" font-size="18" text-anchor="middle" fill="#fff">A</text>
<ellipse cx="568.20" cy="1337.90" rx="10.3" ry="11.6" fill="#00aeef" stroke="#151515" stroke-width="1.9"/>
<text x="568.20" y="1344.38" font-size="18" text-anchor="middle" fill="#fff">A</text>
<ellipse cx="589.60" cy="1337.90" rx="10.3" ry="11.6" fill="#00aeef" stroke="#151515" stroke-width="1.9"/>
<text x="589.60" y="1344.38" font-size="18" text-anchor="middle" fill="#fff">C</text>
<ellipse cx="611.00" cy="1337.90" rx="10.3" ry="11.6" fill="#00aeef" stroke="#151515" stroke-width="1.9"/>
<text x="611.00" y="1344.38" font-size="18" text-anchor="middle" fill="#fff">A</text>
<ellipse cx="632.40" cy="1337.90" rx="10.3" ry="11.6" fill="#00aeef" stroke="#151515" stroke-width="1.9"/>
<text x="632.40" y="1344.38" font-size="18" text-anchor="middle" fill="#fff">A</text>
<ellipse cx="653.80" cy="1337.90" rx="10.3" ry="11.6" fill="#00aeef" stroke="#151515" stroke-width="1.9"/>
<text x="653.80" y="1344.38" font-size="18" text-anchor="middle" fill="#fff">A</text>
<ellipse cx="675.20" cy="1337.90" rx="10.3" ry="11.6" fill="#00aeef" stroke="#151515" stroke-width="1.9"/>
<text x="675.20" y="1344.38" font-size="18" text-anchor="middle" fill="#fff">G</text>
<ellipse cx="696.60" cy="1337.90" rx="10.3" ry="11.6" fill="#00aeef" stroke="#151515" stroke-width="1.9"/>
<text x="696.60" y="1344.38" font-size="18" text-anchor="middle" fill="#fff">T</text>
<ellipse cx="718.00" cy="1337.90" rx="10.3" ry="11.6" fill="#00aeef" stroke="#151515" stroke-width="1.9"/>
<text x="718.00" y="1344.38" font-size="18" text-anchor="middle" fill="#fff">A</text>
<ellipse cx="739.40" cy="1337.90" rx="10.3" ry="11.6" fill="#00aeef" stroke="#151515" stroke-width="1.9"/>
<text x="739.40" y="1344.38" font-size="18" text-anchor="middle" fill="#fff">T</text>
<ellipse cx="760.80" cy="1337.90" rx="10.3" ry="11.6" fill="#00aeef" stroke="#151515" stroke-width="1.9"/>
<text x="760.80" y="1344.38" font-size="18" text-anchor="middle" fill="#fff">T</text>
<ellipse cx="782.20" cy="1337.90" rx="10.3" ry="11.6" fill="#00aeef" stroke="#151515" stroke-width="1.9"/>
<text x="782.20" y="1344.38" font-size="18" text-anchor="middle" fill="#fff">G</text>
<ellipse cx="803.60" cy="1337.90" rx="10.3" ry="11.6" fill="#00aeef" stroke="#151515" stroke-width="1.9"/>
<text x="803.60" y="1344.38" font-size="18" text-anchor="middle" fill="#fff">T</text>
<text x="857.50" y="788.70" font-size="40.0">predicted structure</text>
<g><path d="M942.03 801.46A43.36 43.36 0 0 1 973.50 810.81M973.50 810.81A43.36 43.36 0 0 1 989.48 839.57M980.63 872.76A43.36 43.36 0 0 1 951.87 888.25M951.87 888.25A43.36 43.36 0 0 1 919.90 878.91M919.90 878.91A43.36 43.36 0 0 1 903.92 849.90M903.92 849.90A43.36 43.36 0 0 1 913.27 818.18M913.27 818.18A43.36 43.36 0 0 1 942.03 801.46" stroke="#000" stroke-width="3.0" fill="none"/><path d="M989.48 839.57L1011.36 846.21L1033.00 852.36L1054.63 858.75" stroke="#000" stroke-width="3.0" fill="none"/><path d="M980.63 872.76L1001.77 878.42L1023.16 884.56L1045.29 890.71" stroke="#000" stroke-width="3.0" fill="none"/><path d="M989.48 839.57L980.63 872.76" stroke="#000" stroke-width="1.8" fill="none"/><path d="M1011.36 846.21L1001.77 878.42" stroke="#000" stroke-width="1.8" fill="none"/><path d="M1033.00 852.36L1023.16 884.56" stroke="#000" stroke-width="1.8" fill="none"/><path d="M1054.63 858.75L1045.29 890.71" stroke="#000" stroke-width="1.8" fill="none"/><path d="M1054.63 858.75A32.73 32.73 0 0 1 1086.35 851.13M1086.35 851.13A32.73 32.73 0 0 1 1108.72 874.48M1108.72 874.48A32.73 32.73 0 0 1 1100.61 905.22M1068.16 914.07A32.73 32.73 0 0 1 1045.29 890.71" stroke="#000" stroke-width="3.0" fill="none"/><path d="M1100.61 905.22L1106.26 926.85" stroke="#000" stroke-width="3.0" fill="none"/><path d="M1068.16 914.07L1073.56 935.95" stroke="#000" stroke-width="3.0" fill="none"/><path d="M1100.61 905.22L1068.16 914.07" stroke="#000" stroke-width="1.8" fill="none"/><path d="M1106.26 926.85L1073.56 935.95" stroke="#000" stroke-width="1.8" fill="none"/><path d="M1106.26 926.85A48.68 48.68 0 0 1 1136.75 940.87M1136.75 940.87A48.68 48.68 0 0 1 1150.52 971.11M1150.52 971.11A48.68 48.68 0 0 1 1142.40 1003.07M1142.40 1003.07A48.68 48.68 0 0 1 1114.87 1022.00M1114.87 1022.00A48.68 48.68 0 0 1 1082.17 1019.54M1057.58 995.69A48.68 48.68 0 0 1 1055.13 962.99M1055.13 962.99A48.68 48.68 0 0 1 1073.56 935.95" stroke="#000" stroke-width="3.0" fill="none"/><path d="M1082.17 1019.54L1066.19 1035.77L1050.21 1051.75L1034.23 1067.48" stroke="#000" stroke-width="3.0" fill="none"/><path d="M1057.58 995.69L1042.09 1011.67L1026.11 1027.65L1010.13 1043.63" stroke="#000" stroke-width="3.0" fill="none"/><path d="M1082.17 1019.54L1057.58 995.69" stroke="#000" stroke-width="1.8" fill="none"/><path d="M1066.19 1035.77L1042.09 1011.67" stroke="#000" stroke-width="1.8" fill="none"/><path d="M1050.21 1051.75L1026.11 1027.65" stroke="#000" stroke-width="1.8" fill="none"/><path d="M1034.23 1067.48L1010.13 1043.63" stroke="#000" stroke-width="1.8" fill="none"/><path d="M1010.13 1043.52A43.48 43.48 0 0 0 977.68 1043.52M977.68 1043.52A43.48 43.48 0 0 0 954.32 1067.37M954.32 1067.37A43.48 43.48 0 0 0 954.32 1100.56M954.32 1100.56A43.48 43.48 0 0 0 977.68 1123.92M1011.36 1123.92A43.48 43.48 0 0 0 1034.72 1100.56M1034.72 1100.56A43.48 43.48 0 0 0 1034.72 1067.37" stroke="#000" stroke-width="3.0" fill="none"/><path d="M977.68 1123.92L977.68 1146.29L977.68 1168.91L977.68 1191.53L977.68 1213.66" stroke="#000" stroke-width="3.0" fill="none"/><path d="M1011.36 1123.92L1011.36 1146.29L1011.36 1168.91L1011.36 1191.53L1011.36 1213.66" stroke="#000" stroke-width="3.0" fill="none"/><path d="M977.68 1123.92L1011.36 1123.92" stroke="#000" stroke-width="1.8" fill="none"/><path d="M977.68 1146.29L1011.36 1146.29" stroke="#000" stroke-width="1.8" fill="none"/><path d="M977.68 1168.91L1011.36 1168.91" stroke="#000" stroke-width="1.8" fill="none"/><path d="M977.68 1191.53L1011.36 1191.53" stroke="#000" stroke-width="1.8" fill="none"/><path d="M977.68 1213.66L1011.36 1213.66" stroke="#000" stroke-width="1.8" fill="none"/><path d="M1011.36 1213.66A30.34 30.34 0 0 1 1023.16 1243.90A30.34 30.34 0 0 1 1001.77 1267.25" stroke="#000" stroke-width="3.0" fill="none"/><path d="M1001.77 1267.25L994.15 1288.15L986.29 1309.54L978.42 1329.95" stroke="#000" stroke-width="3.0" fill="none"/><path d="M970.30 1254.96L962.44 1276.35L954.32 1297.25L946.46 1318.14" stroke="#000" stroke-width="3.0" fill="none"/><path d="M1001.77 1267.25L970.30 1254.96" stroke="#000" stroke-width="1.8" fill="none"/><path d="M994.15 1288.15L962.44 1276.35" stroke="#000" stroke-width="1.8" fill="none"/><path d="M986.29 1309.54L954.32 1297.25" stroke="#000" stroke-width="1.8" fill="none"/><path d="M978.42 1329.95L946.46 1318.14" stroke="#000" stroke-width="1.8" fill="none"/><path d="M946.46 1318.14A32.82 32.82 0 0 0 922.36 1339.29M922.36 1339.29A32.82 32.82 0 0 0 928.02 1371.74M928.02 1371.74A32.82 32.82 0 0 0 958.50 1382.81M958.50 1382.81A32.82 32.82 0 0 0 983.83 1362.40M983.83 1362.40A32.82 32.82 0 0 0 978.42 1329.95" stroke="#000" stroke-width="3.0" fill="none"/><path d="M970.6 1253.8L974 1245" stroke="#000" stroke-width="2.6" fill="none"/><path d="M975.4 1239.2L968 1246.2L973.6 1244.6L979.8 1247.8Z" fill="#000" stroke="#000" stroke-width="0.8" stroke-linejoin="round"/><circle cx="942.03" cy="801.46" r="6" fill="#008000"/><circle cx="973.50" cy="810.81" r="6" fill="#008000"/><circle cx="989.48" cy="839.57" r="6" fill="#008000"/><circle cx="980.63" cy="872.76" r="6" fill="#ff0000"/><circle cx="951.87" cy="888.25" r="6" fill="#000000"/><circle cx="919.90" cy="878.91" r="6" fill="#ff0000"/><circle cx="903.92" cy="849.90" r="6" fill="#008000"/><circle cx="913.27" cy="818.18" r="6" fill="#008000"/><circle cx="1011.36" cy="846.21" r="6" fill="#000000"/><circle cx="1033.00" cy="852.36" r="6" fill="#ff0000"/><circle cx="1054.63" cy="858.75" r="6" fill="#000000"/><circle cx="1001.77" cy="878.42" r="6" fill="#ff0000"/><circle cx="1023.16" cy="884.56" r="6" fill="#008000"/><circle cx="1045.29" cy="890.71" r="6" fill="#ff0000"/><circle cx="1086.35" cy="851.13" r="6" fill="#ff0000"/><circle cx="1108.72" cy="874.48" r="6" fill="#ff0000"/><circle cx="1100.61" cy="905.22" r="6" fill="#000000"/><circle cx="1068.16" cy="914.07" r="6" fill="#0000ff"/><circle cx="1106.26" cy="926.85" r="6" fill="#0000ff"/><circle cx="1073.56" cy="935.95" r="6" fill="#000000"/><circle cx="1136.75" cy="940.87" r="6" fill="#ff0000"/><circle cx="1150.52" cy="971.11" r="6" fill="#ff0000"/><circle cx="1142.40" cy="1003.07" r="6" fill="#ff0000"/><circle cx="1114.87" cy="1022.00" r="6" fill="#0000ff"/><circle cx="1082.17" cy="1019.54" r="6" fill="#008000"/><circle cx="1057.58" cy="995.69" r="6" fill="#ff0000"/><circle cx="1055.13" cy="962.99" r="6" fill="#ff0000"/><circle cx="1066.19" cy="1035.77" r="6" fill="#ff0000"/><circle cx="1050.21" cy="1051.75" r="6" fill="#ff0000"/><circle cx="1034.23" cy="1067.48" r="6" fill="#000000"/><circle cx="1042.09" cy="1011.67" r="6" fill="#008000"/><circle cx="1026.11" cy="1027.65" r="6" fill="#008000"/><circle cx="1010.13" cy="1043.63" r="6" fill="#0000ff"/><circle cx="977.68" cy="1043.52" r="6" fill="#0000ff"/><circle cx="954.32" cy="1067.37" r="6" fill="#008000"/><circle cx="954.32" cy="1100.56" r="6" fill="#ff0000"/><circle cx="977.68" cy="1123.92" r="6" fill="#000000"/><circle cx="1011.36" cy="1123.92" r="6" fill="#0000ff"/><circle cx="1034.72" cy="1100.56" r="6" fill="#0000ff"/><circle cx="1034.72" cy="1067.37" r="6" fill="#000000"/><circle cx="977.68" cy="1146.29" r="6" fill="#ff0000"/><circle cx="977.68" cy="1168.91" r="6" fill="#ff0000"/><circle cx="977.68" cy="1191.53" r="6" fill="#0000ff"/><circle cx="977.68" cy="1213.66" r="6" fill="#000000"/><circle cx="1011.36" cy="1146.29" r="6" fill="#008000"/><circle cx="1011.36" cy="1168.91" r="6" fill="#008000"/><circle cx="1011.36" cy="1191.53" r="6" fill="#000000"/><circle cx="1011.36" cy="1213.66" r="6" fill="#ff0000"/><circle cx="1023.16" cy="1243.90" r="6" fill="#ff0000"/><circle cx="1001.77" cy="1267.25" r="6" fill="#ff0000"/><circle cx="994.15" cy="1288.15" r="6" fill="#000000"/><circle cx="986.29" cy="1309.54" r="6" fill="#ff0000"/><circle cx="978.42" cy="1329.95" r="6" fill="#ff0000"/><circle cx="970.30" cy="1254.96" r="6" fill="#008000"/><circle cx="962.44" cy="1276.35" r="6" fill="#0000ff"/><circle cx="954.32" cy="1297.25" r="6" fill="#008000"/><circle cx="946.46" cy="1318.14" r="6" fill="#008000"/><circle cx="922.36" cy="1339.29" r="6" fill="#ff0000"/><circle cx="928.02" cy="1371.74" r="6" fill="#008000"/><circle cx="958.50" cy="1382.81" r="6" fill="#0000ff"/><circle cx="983.83" cy="1362.40" r="6" fill="#ff0000"/></g>
<text x="952.00" y="1218.30" font-size="22">5'</text>
<text x="944.30" y="1260.80" font-size="22">3′</text>
<circle cx="1215.70" cy="993.70" r="9.3" fill="#008000"/>
<text x="1239.50" y="1001.80" font-size="22.5">A</text>
<circle cx="1215.70" cy="1025.90" r="9.3" fill="#0000ff"/>
<text x="1239.50" y="1034.00" font-size="22.5">C</text>
<circle cx="1215.70" cy="1058.40" r="9.3" fill="#000"/>
<text x="1239.50" y="1066.50" font-size="22.5">G</text>
<circle cx="1215.70" cy="1090.30" r="9.3" fill="#ff0000"/>
<text x="1239.50" y="1098.40" font-size="22.5">U</text>
<rect x="1565.90" y="975.50" width="60.90" height="257.60" fill="#46978d" stroke="#000" stroke-width="4.0"/>
<rect x="1663.10" y="1189.30" width="60.70" height="43.80" fill="#a1c9c1" stroke="#000" stroke-width="4.0"/>
<rect x="1760.50" y="1138.80" width="60.80" height="94.30" fill="#abd0f1" stroke="#000" stroke-width="4.0"/>
<rect x="1858.60" y="831.50" width="60.80" height="401.60" fill="#e57364" stroke="#000" stroke-width="4.0"/>
<line x1="1531.30" y1="808.00" x2="1531.30" y2="1235.30" stroke="#000" stroke-width="4.4"/>
<line x1="1513.70" y1="1233.10" x2="1957.00" y2="1233.10" stroke="#000" stroke-width="4.4"/>
<line x1="1513.70" y1="1233.10" x2="1531.30" y2="1233.10" stroke="#000" stroke-width="4.4"/>
<text x="1509.50" y="1249.60" font-size="46" text-anchor="end">0</text>
<line x1="1513.70" y1="1092.10" x2="1531.30" y2="1092.10" stroke="#000" stroke-width="4.4"/>
<text x="1509.50" y="1108.60" font-size="46" text-anchor="end">500</text>
<line x1="1513.70" y1="951.10" x2="1531.30" y2="951.10" stroke="#000" stroke-width="4.4"/>
<text x="1509.50" y="967.60" font-size="46" text-anchor="end">1000</text>
<line x1="1513.70" y1="810.10" x2="1531.30" y2="810.10" stroke="#000" stroke-width="4.4"/>
<text x="1509.50" y="826.60" font-size="46" text-anchor="end">1500</text>
<line x1="1595.90" y1="1233.10" x2="1595.90" y2="1250.70" stroke="#000" stroke-width="4.4"/>
<line x1="1693.10" y1="1233.10" x2="1693.10" y2="1250.70" stroke="#000" stroke-width="4.4"/>
<line x1="1791.10" y1="1233.10" x2="1791.10" y2="1250.70" stroke="#000" stroke-width="4.4"/>
<line x1="1888.80" y1="1233.10" x2="1888.80" y2="1250.70" stroke="#000" stroke-width="4.4"/>
<text x="0" y="0" font-size="50" transform="translate(1349.00 1197.00) rotate(-90)"><tspan font-weight="normal" font-family="Liberation Serif, serif">&#916;</tspan>FL (arb.</text>
<text x="0" y="0" font-size="50" transform="translate(1410.00 1195.00) rotate(-90)">units)</text>
<path d="M1587.45 960.00H1603.95M1587.45 986.40H1603.95M1595.70 960.00V986.40" stroke="#000" stroke-width="5.6" fill="none"/>
<path d="M1685.05 1183.80H1701.55M1685.05 1190.60H1701.55M1693.30 1183.80V1190.60" stroke="#000" stroke-width="5.6" fill="none"/>
<path d="M1782.65 1131.60H1799.15M1782.65 1142.80H1799.15M1790.90 1131.60V1142.80" stroke="#000" stroke-width="5.6" fill="none"/>
<path d="M1880.25 819.20H1896.75M1880.25 839.40H1896.75M1888.50 819.20V839.40" stroke="#000" stroke-width="5.6" fill="none"/>
<circle cx="1622.00" cy="960.20" r="6.5" fill="#000"/>
<circle cx="1595.70" cy="971.80" r="6.5" fill="#000"/>
<circle cx="1595.70" cy="987.00" r="6.5" fill="#000"/>
<circle cx="1667.00" cy="1190.10" r="6.5" fill="#000"/>
<circle cx="1693.50" cy="1185.20" r="6.5" fill="#000"/>
<circle cx="1719.50" cy="1186.40" r="6.5" fill="#000"/>
<circle cx="1764.90" cy="1143.60" r="6.5" fill="#000"/>
<circle cx="1790.80" cy="1131.60" r="6.5" fill="#000"/>
<circle cx="1817.00" cy="1134.70" r="6.5" fill="#000"/>
<circle cx="1862.00" cy="838.30" r="6.5" fill="#000"/>
<circle cx="1888.40" cy="818.00" r="6.5" fill="#000"/>
<circle cx="1914.40" cy="831.00" r="6.5" fill="#000"/>
<text x="0" y="0" font-size="40.2" text-anchor="end" transform="translate(1604.90 1293.50) rotate(-30)">5' head</text>
<text x="0" y="0" font-size="40.2" text-anchor="end" transform="translate(1702.10 1293.50) rotate(-30)">mid</text>
<text x="0" y="0" font-size="40.2" text-anchor="end" transform="translate(1800.10 1293.50) rotate(-30)">3' tail</text>
<text x="0" y="0" font-size="40.2" text-anchor="end" transform="translate(1897.80 1293.50) rotate(-30)">pool</text>
<defs><radialGradient id="glow"><stop offset="0.45" stop-color="#a9e66c" stop-opacity="0.9"/><stop offset="0.7" stop-color="#bdee8e" stop-opacity="0.6"/><stop offset="1" stop-color="#d8f7b8" stop-opacity="0"/></radialGradient><linearGradient id="lp" x1="0" y1="0" x2="0" y2="1"><stop offset="0" stop-color="#c873c6"/><stop offset="1" stop-color="#e0669e"/></linearGradient></defs>
<text x="4.20" y="1676.30" font-size="44.9">Cas12a:</text>
<text x="4.20" y="2018.20" font-size="44.9">Cas13a:</text>
<path d="M264.9 1621.1C265.2 1614.0 267.7 1603.4 273.2 1596.3C278.7 1589.1 288.4 1582.5 298.0 1578.1C307.7 1573.7 320.1 1571.7 331.1 1569.8C342.2 1567.9 347.3 1566.5 364.4 1566.8C381.4 1567.1 412.2 1567.1 433.4 1571.4C454.6 1575.7 476.5 1583.9 491.5 1592.4C506.4 1600.9 515.4 1610.7 523.0 1622.3C530.5 1634.0 535.6 1648.9 536.8 1662.5C538.0 1676.1 536.8 1690.6 530.2 1703.9C523.6 1717.1 510.8 1731.7 497.0 1741.9C483.1 1752.1 465.2 1760.1 447.2 1765.1C429.3 1770.1 408.5 1772.1 389.2 1772.1C369.8 1772.1 346.9 1769.6 331.1 1765.1C315.4 1760.6 304.1 1752.1 294.7 1745.2C285.3 1738.3 278.7 1729.5 274.8 1723.7C270.9 1718.0 271.1 1714.9 271.5 1710.5C271.9 1706.0 273.7 1701.4 277.3 1697.3C280.9 1693.1 286.2 1688.9 293.0 1685.7C299.8 1682.5 311.6 1680.4 317.9 1678.2C324.3 1676.0 328.5 1674.5 331.1 1672.4C333.8 1670.3 333.9 1668.1 333.7 1665.8C333.4 1663.5 332.7 1660.6 329.5 1658.4C326.4 1656.2 321.3 1654.3 314.6 1652.6C308.0 1651.0 296.9 1650.6 289.7 1648.4C282.5 1646.2 275.6 1643.9 271.5 1639.3C267.4 1634.8 264.6 1628.3 264.9 1621.1Z" fill="#aadaeb"/><path d="M264.9 1621.1C265.2 1614.0 267.7 1603.4 273.2 1596.3C278.7 1589.1 288.4 1582.5 298.0 1578.1C307.7 1573.7 320.1 1571.7 331.1 1569.8C342.2 1567.9 347.6 1566.5 364.4 1566.8C381.2 1567.1 412.0 1567.1 431.9 1571.4C451.9 1575.7 470.8 1583.9 483.9 1592.4C497.0 1600.9 504.4 1610.7 510.8 1622.3C517.2 1634.0 521.3 1649.2 522.3 1662.5C523.3 1675.8 522.4 1689.9 516.8 1702.3C511.2 1714.8 500.7 1727.9 488.6 1737.2C476.6 1746.4 461.2 1753.4 444.6 1757.9C428.1 1762.4 408.1 1764.1 389.2 1764.1C370.3 1764.1 346.9 1761.9 331.1 1757.9C315.4 1753.9 304.1 1746.4 294.7 1740.2C285.3 1733.9 278.7 1725.6 274.8 1720.7C270.9 1715.7 271.1 1714.4 271.5 1710.5C271.9 1706.6 273.7 1701.4 277.3 1697.3C280.9 1693.1 285.2 1688.6 293.0 1685.7C300.8 1682.8 314.9 1681.4 323.9 1679.7C333.0 1678.0 341.5 1677.7 347.1 1675.4C352.8 1673.1 357.9 1669.2 357.7 1665.8C357.4 1662.4 351.7 1657.4 345.5 1654.9C339.4 1652.5 329.9 1652.2 320.6 1651.1C311.3 1650.0 297.9 1650.4 289.7 1648.4C281.5 1646.5 275.6 1643.9 271.5 1639.3C267.4 1634.8 264.6 1628.3 264.9 1621.1Z" fill="#c0e5f0"/>
<text x="353.70" y="1535.40" font-size="43" fill="#c00000">ON</text>
<text x="533.30" y="1491.40" font-size="26.5">ssDNA probe</text>
<text x="485.50" y="1640.00" font-size="26.6">scaffold RNA</text>
<text x="263.20" y="1671.30" font-size="26.8">mature miRNA</text>
<text x="448.40" y="1721.80" font-size="26.7" fill="#0f75bd">ssDNA activator</text>
<path d="M288.5 1686.9H372Q377 1686.9 378.5 1683A12.2 10 0 0 1 402 1683Q403.5 1686.9 408 1686.9H436.4" stroke="#cf74c4" stroke-width="2.8" fill="none"/>
<path d="M292.30 1686.90v11.00M301.69 1686.90v11.00M311.09 1686.90v11.00M320.48 1686.90v11.00M329.87 1686.90v11.00M339.27 1686.90v11.00M348.66 1686.90v11.00M358.05 1686.90v11.00M367.45 1686.90v11.00M376.84 1686.90v11.00M405.02 1686.90v11.00M414.41 1686.90v11.00M423.81 1686.90v11.00M433.20 1686.90v11.00" stroke="#cf74c4" stroke-width="1.9" fill="none"/>
<line x1="283.70" y1="1715.80" x2="438.80" y2="1715.80" stroke="#2389cc" stroke-width="3.6"/>
<path d="M287.30 1715.80v-14.50M297.05 1715.80v-14.50M306.79 1715.80v-14.50M316.54 1715.80v-14.50M326.29 1715.80v-14.50M336.03 1715.80v-14.50M345.78 1715.80v-14.50M355.53 1715.80v-14.50M365.27 1715.80v-14.50M375.02 1715.80v-14.50M384.77 1715.80v-14.50M394.51 1715.80v-14.50M404.26 1715.80v-14.50M414.01 1715.80v-14.50M423.75 1715.80v-14.50M433.50 1715.80v-14.50" stroke="#3d9bd6" stroke-width="1.9" fill="none"/>
<path d="M447.20 1687.00Q455.60 1684.00 455.60 1671.00V1597.95A9.65 9.65 0 0 1 474.90 1597.95V1662.20Q474.90 1673.20 487.90 1673.20H519.40" stroke="#cf74c4" stroke-width="2.4" fill="none" stroke-linejoin="round"/>
<path d="M455.60 1605.00H474.90M455.60 1611.22H474.90M455.60 1617.44H474.90M455.60 1623.67H474.90M455.60 1629.89H474.90M455.60 1636.11H474.90M455.60 1642.33H474.90M455.60 1648.56H474.90M455.60 1654.78H474.90M455.60 1661.00H474.90" stroke="#cf74c4" stroke-width="1.6" fill="none" stroke-opacity="0.85"/>
<g transform="translate(0.00 0.00)"><circle cx="547.2" cy="1576" r="33" fill="url(#glow)"/><path d="M589.6 1528.3L574 1546.6M566.6 1553.8L553.6 1568.6" stroke="#2d2d2d" stroke-width="9" fill="none"/><circle cx="596.9" cy="1520.1" r="14.6" fill="#b5b1b0" stroke="#3f3f3f" stroke-width="1.7"/><circle cx="547.2" cy="1576" r="14.9" fill="#92d050" stroke="#3b5a22" stroke-width="1.7"/><text transform="translate(596.3 1520.2) rotate(-58)" x="0" y="7.2" font-size="20.5" text-anchor="middle">Q</text><text transform="translate(547.4 1576) rotate(-62)" x="0" y="7" font-size="20" text-anchor="middle">F</text><path d="M545.6 1512.5L552.3 1522.1L551.4 1523.4L558.4 1532L557.5 1533.6L570 1549.7L555.9 1539.7L557.1 1537.8L549.1 1531.1L550.4 1529.1L542.4 1521.8Z" fill="#ff0000" stroke="#7a1010" stroke-width="0.5"/></g>
<path d="M756.6 1616.3C756.9 1609.1 759.4 1598.6 764.9 1591.4C770.4 1584.2 780.1 1577.6 789.7 1573.2C799.4 1568.8 811.8 1566.8 822.8 1564.9C833.8 1563.0 839.0 1561.6 856.0 1561.9C873.0 1562.2 903.8 1562.2 925.0 1566.5C946.2 1570.8 968.1 1579.0 983.0 1587.5C997.9 1596.0 1007.0 1605.8 1014.5 1617.5C1022.0 1629.2 1027.1 1644.1 1028.3 1657.7C1029.5 1671.3 1028.3 1685.8 1021.7 1699.1C1015.1 1712.3 1002.3 1727.0 988.5 1737.2C974.7 1747.4 956.8 1755.4 938.8 1760.4C920.8 1765.4 900.1 1767.4 880.8 1767.4C861.5 1767.4 838.5 1764.9 822.8 1760.4C807.1 1755.9 795.8 1747.4 786.4 1740.5C777.0 1733.6 770.4 1724.8 766.5 1719.0C762.6 1713.2 762.8 1710.1 763.2 1705.7C763.6 1701.3 765.4 1696.6 769.0 1692.5C772.6 1688.4 777.9 1684.1 784.7 1680.9C791.5 1677.7 803.2 1675.6 809.6 1673.4C816.0 1671.2 820.2 1669.7 822.8 1667.6C825.4 1665.5 825.6 1663.3 825.3 1661.0C825.0 1658.7 824.4 1655.8 821.2 1653.6C818.0 1651.4 812.9 1649.5 806.3 1647.8C799.7 1646.1 788.6 1645.8 781.4 1643.6C774.2 1641.4 767.3 1639.0 763.2 1634.5C759.1 1630.0 756.3 1623.5 756.6 1616.3Z" fill="#aadaeb"/><path d="M756.6 1616.3C756.9 1609.1 759.4 1598.6 764.9 1591.4C770.4 1584.2 780.1 1577.6 789.7 1573.2C799.4 1568.8 811.8 1566.8 822.8 1564.9C833.8 1563.0 839.2 1561.6 856.0 1561.9C872.8 1562.2 903.6 1562.2 923.5 1566.5C943.4 1570.8 962.3 1579.0 975.4 1587.5C988.5 1596.0 995.9 1605.8 1002.3 1617.5C1008.7 1629.2 1012.8 1644.4 1013.8 1657.7C1014.8 1671.0 1013.9 1685.1 1008.3 1697.5C1002.7 1710.0 992.2 1723.2 980.2 1732.5C968.2 1741.7 952.8 1748.7 936.2 1753.2C919.6 1757.7 899.7 1759.4 880.8 1759.4C861.9 1759.4 838.5 1757.2 822.8 1753.2C807.1 1749.2 795.8 1741.6 786.4 1735.4C777.0 1729.2 770.4 1720.9 766.5 1715.9C762.6 1711.0 762.8 1709.6 763.2 1705.7C763.6 1701.8 765.4 1696.6 769.0 1692.5C772.6 1688.4 776.9 1683.8 784.7 1680.9C792.5 1678.0 806.6 1676.6 815.6 1674.9C824.6 1673.2 833.2 1672.9 838.8 1670.6C844.4 1668.3 849.6 1664.4 849.3 1661.0C849.0 1657.6 843.4 1652.5 837.2 1650.1C831.0 1647.6 821.6 1647.4 812.3 1646.3C803.0 1645.2 789.6 1645.6 781.4 1643.6C773.2 1641.6 767.3 1639.0 763.2 1634.5C759.1 1630.0 756.3 1623.5 756.6 1616.3Z" fill="#c0e5f0"/>
<text x="809.50" y="1532.80" font-size="43">OFF</text>
<circle cx="1012.6" cy="1571.6" r="25" fill="none" stroke="#000" stroke-width="6"/><path d="M995 1554L1030.2 1589.2" stroke="#000" stroke-width="6"/>
<text x="792.20" y="1651.80" font-size="26.8">pre-miRNA</text>
<text x="977.10" y="1643.00" font-size="26.6">scaffold RNA</text>
<text x="948.50" y="1722.00" font-size="26.7" fill="#0f75bd">ssDNA activator</text>
<path d="M798.30 1669.60v22.60M805.42 1669.60v22.60M812.53 1669.60v22.60M819.65 1669.60v22.60M826.76 1669.60v22.60M833.88 1669.60v22.60M840.99 1669.60v22.60M848.11 1669.60v22.60M869.46 1669.60v22.60M876.57 1669.60v22.60M883.69 1669.60v22.60M890.81 1669.60v22.60M897.92 1669.60v22.60M905.04 1669.60v22.60M912.15 1669.60v22.60M919.27 1669.60v22.60M926.38 1669.60v22.60M933.50 1669.60v22.60" stroke="#ecaadb" stroke-width="2.6" fill="none" stroke-opacity="0.95"/>
<path d="M791.25 1669.60A24.60 24.60 0 1 0 791.25 1692.20" stroke="url(#lp)" stroke-width="2.8" fill="none"/>
<path d="M790.75 1669.60H842.90Q846.90 1669.60 847.70 1666.10A9.95 6.40 0 0 1 867.60 1666.10Q868.40 1669.60 872.40 1669.60H936.50" stroke="#cf74c4" stroke-width="2.8" fill="none"/>
<path d="M790.75 1692.20H936.50" stroke="#e0669e" stroke-width="2.8" fill="none"/>
<line x1="786.80" y1="1716.40" x2="940.50" y2="1716.40" stroke="#2389cc" stroke-width="3.6"/>
<path d="M790.50 1716.40v-14.00M800.17 1716.40v-14.00M809.83 1716.40v-14.00M819.50 1716.40v-14.00M829.17 1716.40v-14.00M838.83 1716.40v-14.00M848.50 1716.40v-14.00M858.17 1716.40v-14.00M867.83 1716.40v-14.00M877.50 1716.40v-14.00M887.17 1716.40v-14.00M896.83 1716.40v-14.00M906.50 1716.40v-14.00M916.17 1716.40v-14.00M925.83 1716.40v-14.00M935.50 1716.40v-14.00" stroke="#3d9bd6" stroke-width="1.9" fill="none"/>
<path d="M939.10 1682.00Q947.20 1679.00 947.20 1666.00V1592.00A9.20 9.20 0 0 1 965.60 1592.00V1657.60Q965.60 1668.60 978.60 1668.60H1011.30" stroke="#cf74c4" stroke-width="2.4" fill="none" stroke-linejoin="round"/>
<path d="M947.20 1600.00H965.60M947.20 1606.33H965.60M947.20 1612.67H965.60M947.20 1619.00H965.60M947.20 1625.33H965.60M947.20 1631.67H965.60M947.20 1638.00H965.60M947.20 1644.33H965.60M947.20 1650.67H965.60M947.20 1657.00H965.60" stroke="#cf74c4" stroke-width="1.6" fill="none" stroke-opacity="0.85"/>
<path d="M263.3 1959.6C263.6 1951.8 266.0 1942.9 271.5 1936.1C276.9 1929.3 286.5 1923.1 296.0 1918.9C305.5 1914.7 317.8 1912.8 328.7 1911.0C339.6 1909.3 344.7 1907.9 361.5 1908.2C378.3 1908.5 408.7 1908.5 429.7 1912.5C450.6 1916.6 472.2 1924.4 487.0 1932.4C501.7 1940.4 510.6 1949.7 518.1 1960.8C525.5 1971.8 530.5 1985.9 531.7 1998.8C532.9 2011.6 531.7 2025.4 525.2 2037.9C518.6 2050.5 506.0 2064.3 492.4 2073.9C478.7 2083.6 461.0 2091.1 443.3 2095.9C425.6 2100.6 405.1 2102.5 386.0 2102.5C366.9 2102.5 344.2 2099.1 328.7 2095.9C313.2 2092.6 302.0 2088.6 292.7 2083.1C283.5 2077.5 276.9 2068.2 273.1 2062.7C269.3 2057.3 269.4 2054.3 269.8 2050.2C270.2 2046.0 272.0 2041.6 275.5 2037.7C279.1 2033.8 284.4 2029.7 291.1 2026.7C297.7 2023.7 309.4 2021.7 315.7 2019.6C321.9 2017.5 326.1 2016.1 328.7 2014.1C331.3 2012.2 331.4 2010.1 331.2 2007.9C330.9 2005.7 330.2 2003.0 327.1 2000.9C324.0 1998.8 318.9 1997.0 312.4 1995.4C305.8 1993.8 294.9 1993.5 287.8 1991.4C280.7 1989.4 273.9 1988.1 269.8 1982.8C265.7 1977.5 263.0 1967.4 263.3 1959.6Z" fill="#f8d88e"/><path d="M263.3 1959.6C263.6 1951.8 266.0 1942.9 271.5 1936.1C276.9 1929.3 286.5 1923.1 296.0 1918.9C305.5 1914.7 317.8 1912.8 328.7 1911.0C339.6 1909.3 344.9 1907.9 361.5 1908.2C378.1 1908.5 408.5 1908.5 428.2 1912.5C447.8 1916.6 466.4 1924.4 479.4 1932.4C492.3 1940.4 499.5 1949.7 505.9 1960.8C512.2 1971.8 516.2 1986.2 517.2 1998.8C518.2 2011.4 517.3 2024.6 511.8 2036.4C506.3 2048.1 495.9 2060.5 484.1 2069.2C472.2 2077.9 457.0 2084.5 440.7 2088.7C424.3 2092.9 404.7 2094.5 386.0 2094.5C367.3 2094.5 344.2 2091.5 328.7 2088.7C313.2 2085.8 302.0 2082.3 292.7 2077.3C283.5 2072.4 276.9 2063.6 273.1 2059.1C269.3 2054.6 269.4 2053.7 269.8 2050.2C270.2 2046.6 272.0 2041.6 275.5 2037.7C279.1 2033.8 283.4 2029.5 291.1 2026.7C298.7 2024.0 312.7 2022.7 321.7 2021.1C330.6 2019.5 339.1 2019.3 344.7 2017.1C350.3 2014.9 355.4 2011.2 355.2 2007.9C354.9 2004.6 349.2 1999.7 343.1 1997.4C337.0 1995.1 327.6 1994.9 318.4 1993.9C309.2 1992.9 295.9 1993.3 287.8 1991.4C279.7 1989.6 273.9 1988.1 269.8 1982.8C265.7 1977.5 263.0 1967.4 263.3 1959.6Z" fill="#f9dfa5"/>
<text x="358.00" y="1875.40" font-size="43" fill="#c00000">ON</text>
<text x="511.80" y="1819.30" font-size="26.5">RNA probe</text>
<text x="251.40" y="2000.00" font-size="26.7">mature miRNA</text>
<text x="478.90" y="1996.20" font-size="26.7">crRNA</text>
<path d="M316.3 2020H372Q377 2020 378.5 2016A12.2 10 0 0 1 404.5 2016Q406 2020 411 2020H436.4" stroke="#c573c9" stroke-width="2.8" fill="none"/>
<path d="M319.50 2020.00v9.50M329.00 2020.00v9.50M338.50 2020.00v9.50M348.00 2020.00v9.50M357.50 2020.00v9.50M367.00 2020.00v9.50M376.50 2020.00v9.50M405.00 2020.00v9.50M414.50 2020.00v9.50M424.00 2020.00v9.50M433.50 2020.00v9.50" stroke="#c573c9" stroke-width="1.9" fill="none"/>
<path d="M316.50 2043.20v-10.00M322.71 2043.20v-10.00M328.92 2043.20v-10.00M335.13 2043.20v-10.00M341.34 2043.20v-10.00M347.55 2043.20v-10.00M353.76 2043.20v-10.00M359.97 2043.20v-10.00M366.18 2043.20v-10.00M372.39 2043.20v-10.00M378.61 2043.20v-10.00M384.82 2043.20v-10.00M391.03 2043.20v-10.00M397.24 2043.20v-10.00M403.45 2043.20v-10.00M409.66 2043.20v-10.00M415.87 2043.20v-10.00M422.08 2043.20v-10.00M428.29 2043.20v-10.00M434.50 2043.20v-10.00" stroke="#c573c9" stroke-width="1.7" fill="none" stroke-opacity="0.8"/>
<path d="M313.80 2043.20H436.00Q448.00 2043.20 448.00 2031.20V1952.05A9.95 9.95 0 0 1 467.90 1952.05V2016.50Q467.90 2027.50 480.90 2027.50H513.40" stroke="#c573c9" stroke-width="2.4" fill="none" stroke-linejoin="round"/>
<path d="M448.00 1960.00H467.90M448.00 1966.11H467.90M448.00 1972.22H467.90M448.00 1978.33H467.90M448.00 1984.44H467.90M448.00 1990.56H467.90M448.00 1996.67H467.90M448.00 2002.78H467.90M448.00 2008.89H467.90M448.00 2015.00H467.90" stroke="#c573c9" stroke-width="1.6" fill="none" stroke-opacity="0.85"/>
<g transform="translate(-9.50 342.20)"><circle cx="547.2" cy="1576" r="33" fill="url(#glow)"/><path d="M589.6 1528.3L574 1546.6M566.6 1553.8L553.6 1568.6" stroke="#2d2d2d" stroke-width="9" fill="none"/><circle cx="596.9" cy="1520.1" r="14.6" fill="#b5b1b0" stroke="#3f3f3f" stroke-width="1.7"/><circle cx="547.2" cy="1576" r="14.9" fill="#92d050" stroke="#3b5a22" stroke-width="1.7"/><text transform="translate(596.3 1520.2) rotate(-58)" x="0" y="7.2" font-size="20.5" text-anchor="middle">Q</text><text transform="translate(547.4 1576) rotate(-62)" x="0" y="7" font-size="20" text-anchor="middle">F</text><path d="M545.6 1512.5L552.3 1522.1L551.4 1523.4L558.4 1532L557.5 1533.6L570 1549.7L555.9 1539.7L557.1 1537.8L549.1 1531.1L550.4 1529.1L542.4 1521.8Z" fill="#ff0000" stroke="#7a1010" stroke-width="0.5"/></g>
<path d="M750.7 1954.2C751.0 1947.7 753.4 1937.0 758.8 1930.1C764.2 1923.1 773.6 1916.7 783.1 1912.4C792.5 1908.2 804.7 1906.2 815.5 1904.4C826.3 1902.6 831.3 1901.2 848.0 1901.5C864.6 1901.8 894.8 1901.8 915.5 1906.0C936.2 1910.1 957.7 1918.1 972.3 1926.3C986.9 1934.5 995.7 1944.0 1003.1 1955.3C1010.5 1966.6 1015.4 1981.1 1016.6 1994.2C1017.8 2007.4 1016.6 2021.5 1010.1 2034.3C1003.6 2047.1 991.2 2061.3 977.6 2071.2C964.1 2081.1 946.6 2088.8 929.0 2093.6C911.4 2098.5 891.2 2100.4 872.2 2100.4C853.3 2100.4 830.9 2098.5 815.5 2093.6C800.1 2088.8 789.0 2078.5 779.9 2071.4C770.7 2064.2 764.2 2056.2 760.4 2050.6C756.6 2044.9 756.8 2042.0 757.2 2037.7C757.6 2033.4 759.3 2028.9 762.8 2024.9C766.3 2020.9 771.6 2016.8 778.2 2013.7C784.8 2010.6 796.4 2008.6 802.6 2006.4C808.8 2004.3 812.9 2002.8 815.5 2000.8C818.0 1998.8 818.2 1996.7 817.9 1994.4C817.7 1992.2 817.0 1989.4 813.9 1987.3C810.8 1985.1 805.8 1983.3 799.3 1981.6C792.8 1980.0 782.0 1979.7 775.0 1977.6C767.9 1975.4 761.2 1972.7 757.2 1968.8C753.1 1964.9 750.4 1960.6 750.7 1954.2Z" fill="#f8d88e"/><path d="M750.7 1954.2C751.0 1947.7 753.4 1937.0 758.8 1930.1C764.2 1923.1 773.6 1916.7 783.1 1912.4C792.5 1908.2 804.7 1906.2 815.5 1904.4C826.3 1902.6 831.6 1901.2 848.0 1901.5C864.4 1901.8 894.6 1901.8 914.0 1906.0C933.5 1910.1 951.9 1918.1 964.7 1926.3C977.5 1934.5 984.6 1944.0 990.9 1955.3C997.1 1966.6 1001.1 1981.3 1002.1 1994.2C1003.1 2007.1 1002.2 2020.7 996.8 2032.7C991.3 2044.8 981.0 2057.5 969.3 2066.4C957.6 2075.4 942.6 2082.1 926.4 2086.4C910.2 2090.8 890.7 2092.4 872.2 2092.4C853.8 2092.4 830.9 2090.7 815.5 2086.4C800.1 2082.1 789.0 2073.0 779.9 2066.6C770.7 2060.1 764.2 2052.6 760.4 2047.7C756.6 2042.9 756.8 2041.5 757.2 2037.7C757.6 2033.9 759.3 2028.9 762.8 2024.9C766.3 2020.9 770.6 2016.5 778.2 2013.7C785.8 2010.8 799.7 2009.6 808.6 2007.9C817.4 2006.3 825.9 2006.1 831.5 2003.8C837.0 2001.6 842.2 1997.8 841.9 1994.4C841.7 1991.1 836.0 1986.1 829.9 1983.8C823.8 1981.4 814.5 1981.2 805.3 1980.1C796.2 1979.1 783.0 1979.5 775.0 1977.6C766.9 1975.7 761.2 1972.7 757.2 1968.8C753.1 1964.9 750.4 1960.6 750.7 1954.2Z" fill="#f9dfa5"/>
<text x="845.50" y="1875.50" font-size="43" fill="#c00000">ON</text>
<text x="1031.30" y="1815.90" font-size="26.5">RNA probe</text>
<text x="776.40" y="1979.90" font-size="26.8">pre-miRNA</text>
<text x="958.70" y="1987.20" font-size="26.5">crRNA</text>
<path d="M786.50 1999.60v22.60M793.70 1999.60v22.60M800.90 1999.60v22.60M808.10 1999.60v22.60M815.30 1999.60v22.60M822.50 1999.60v22.60M829.70 1999.60v22.60M836.90 1999.60v22.60M858.50 1999.60v22.60M865.70 1999.60v22.60M872.90 1999.60v22.60M880.10 1999.60v22.60M887.30 1999.60v22.60M894.50 1999.60v22.60M901.70 1999.60v22.60M908.90 1999.60v22.60M916.10 1999.60v22.60M923.30 1999.60v22.60" stroke="#ecaadb" stroke-width="2.6" fill="none" stroke-opacity="0.95"/>
<path d="M781.19 1999.60A24.90 24.90 0 1 0 781.19 2022.20" stroke="url(#lp)" stroke-width="2.8" fill="none"/>
<path d="M780.69 1999.60H832.90Q836.90 1999.60 837.70 1996.10A9.95 6.40 0 0 1 857.60 1996.10Q858.40 1999.60 862.40 1999.60H926.30" stroke="#c573c9" stroke-width="2.8" fill="none"/>
<path d="M780.69 2022.20H926.30" stroke="#e0669e" stroke-width="2.8" fill="none"/>
<path d="M799.50 2036.60v-9.50M805.68 2036.60v-9.50M811.87 2036.60v-9.50M818.05 2036.60v-9.50M824.24 2036.60v-9.50M830.42 2036.60v-9.50M836.61 2036.60v-9.50M842.79 2036.60v-9.50M848.97 2036.60v-9.50M855.16 2036.60v-9.50M861.34 2036.60v-9.50M867.53 2036.60v-9.50M873.71 2036.60v-9.50M879.89 2036.60v-9.50M886.08 2036.60v-9.50M892.26 2036.60v-9.50M898.45 2036.60v-9.50M904.63 2036.60v-9.50M910.82 2036.60v-9.50M917.00 2036.60v-9.50" stroke="#c573c9" stroke-width="1.7" fill="none" stroke-opacity="0.8"/>
<path d="M796.30 2036.60H918.50Q930.50 2036.60 930.50 2024.60V1945.00A9.50 9.50 0 0 1 949.50 1945.00V2011.20Q949.50 2022.20 962.50 2022.20H995.90" stroke="#c573c9" stroke-width="2.4" fill="none" stroke-linejoin="round"/>
<path d="M930.50 1954.60H949.50M930.50 1960.49H949.50M930.50 1966.38H949.50M930.50 1972.27H949.50M930.50 1978.16H949.50M930.50 1984.04H949.50M930.50 1989.93H949.50M930.50 1995.82H949.50M930.50 2001.71H949.50M930.50 2007.60H949.50" stroke="#c573c9" stroke-width="1.6" fill="none" stroke-opacity="0.85"/>
<g transform="translate(475.80 336.30)"><circle cx="547.2" cy="1576" r="33" fill="url(#glow)"/><path d="M589.6 1528.3L574 1546.6M566.6 1553.8L553.6 1568.6" stroke="#2d2d2d" stroke-width="9" fill="none"/><circle cx="596.9" cy="1520.1" r="14.6" fill="#b5b1b0" stroke="#3f3f3f" stroke-width="1.7"/><circle cx="547.2" cy="1576" r="14.9" fill="#92d050" stroke="#3b5a22" stroke-width="1.7"/><text transform="translate(596.3 1520.2) rotate(-58)" x="0" y="7.2" font-size="20.5" text-anchor="middle">Q</text><text transform="translate(547.4 1576) rotate(-62)" x="0" y="7" font-size="20" text-anchor="middle">F</text><path d="M545.6 1512.5L552.3 1522.1L551.4 1523.4L558.4 1532L557.5 1533.6L570 1549.7L555.9 1539.7L557.1 1537.8L549.1 1531.1L550.4 1529.1L542.4 1521.8Z" fill="#ff0000" stroke="#7a1010" stroke-width="0.5"/></g>
<rect x="1515.35" y="1810.05" width="32.30" height="89.55" fill="#437db7" stroke="#3a3a3a" stroke-width="3.1"/>
<rect x="1571.35" y="1828.45" width="32.80" height="71.15" fill="#f0924c" stroke="#3a3a3a" stroke-width="3.1"/>
<rect x="1664.85" y="1894.75" width="32.50" height="4.85" fill="#437db7" stroke="#222" stroke-width="3.1"/>
<rect x="1720.15" y="1648.65" width="34.50" height="250.95" fill="#f0924c" stroke="#111" stroke-width="3.1"/>
<rect x="1813.75" y="1628.75" width="33.90" height="270.85" fill="#437db7" stroke="#111" stroke-width="3.1"/>
<rect x="1869.55" y="1637.65" width="34.10" height="261.95" fill="#f0924c" stroke="#111" stroke-width="3.1"/>
<line x1="1495.30" y1="1504.20" x2="1495.30" y2="1901.20" stroke="#000" stroke-width="3.2"/>
<line x1="1480.60" y1="1899.60" x2="1925.60" y2="1899.60" stroke="#000" stroke-width="3.2"/>
<line x1="1480.60" y1="1899.60" x2="1495.30" y2="1899.60" stroke="#000" stroke-width="3.2"/>
<text transform="translate(1473.2 1915.40) scale(0.87 1)" font-size="45.7" text-anchor="end">0</text>
<line x1="1480.60" y1="1801.10" x2="1495.30" y2="1801.10" stroke="#000" stroke-width="3.2"/>
<text transform="translate(1473.2 1816.90) scale(0.87 1)" font-size="45.7" text-anchor="end">1000</text>
<line x1="1480.60" y1="1702.60" x2="1495.30" y2="1702.60" stroke="#000" stroke-width="3.2"/>
<text transform="translate(1473.2 1718.40) scale(0.87 1)" font-size="45.7" text-anchor="end">2000</text>
<line x1="1480.60" y1="1604.10" x2="1495.30" y2="1604.10" stroke="#000" stroke-width="3.2"/>
<text transform="translate(1473.2 1619.90) scale(0.87 1)" font-size="45.7" text-anchor="end">3000</text>
<line x1="1480.60" y1="1505.60" x2="1495.30" y2="1505.60" stroke="#000" stroke-width="3.2"/>
<text transform="translate(1473.2 1521.40) scale(0.87 1)" font-size="45.7" text-anchor="end">4000</text>
<line x1="1531.60" y1="1899.60" x2="1531.60" y2="1917.20" stroke="#000" stroke-width="3.2"/>
<line x1="1588.60" y1="1899.60" x2="1588.60" y2="1917.20" stroke="#000" stroke-width="3.2"/>
<line x1="1681.10" y1="1899.60" x2="1681.10" y2="1917.20" stroke="#000" stroke-width="3.2"/>
<line x1="1737.40" y1="1899.60" x2="1737.40" y2="1917.20" stroke="#000" stroke-width="3.2"/>
<line x1="1830.40" y1="1899.60" x2="1830.40" y2="1917.20" stroke="#000" stroke-width="3.2"/>
<line x1="1886.40" y1="1899.60" x2="1886.40" y2="1917.20" stroke="#000" stroke-width="3.2"/>
<text transform="translate(1361.2 1866) scale(0.92 1) rotate(-90)" font-size="46"><tspan font-weight="normal" font-size="48" dy="-7.5">&#9651;</tspan><tspan dx="2" dy="7.5">FL (arb. units)</tspan></text>
<g stroke="#3a3a3a" fill="#3a3a3a"><rect x="1524" y="1801" width="16" height="8" stroke="none"/><rect x="1580.5" y="1818.5" width="16" height="9" stroke="none"/></g>
<path d="M1672.50 1884.70H1689.50M1672.50 1905.00H1689.50M1681.00 1884.70V1905.00" stroke="#000" stroke-width="2.6" fill="none"/>
<path d="M1728.40 1619.00H1746.40M1728.40 1674.80H1746.40M1737.40 1619.00V1674.80" stroke="#000" stroke-width="2.6" fill="none"/>
<path d="M1821.40 1595.10H1839.40M1821.40 1660.40H1839.40M1830.40 1595.10V1660.40" stroke="#000" stroke-width="2.6" fill="none"/>
<path d="M1877.40 1608.40H1895.40M1877.40 1662.20H1895.40M1886.40 1608.40V1662.20" stroke="#000" stroke-width="2.6" fill="none"/>
<circle cx="1519.10" cy="1808.20" r="6.1" fill="#000"/>
<circle cx="1532.60" cy="1800.70" r="6.1" fill="#000"/>
<circle cx="1544.40" cy="1807.10" r="6.1" fill="#000"/>
<circle cx="1575.80" cy="1826.80" r="6.1" fill="#000"/>
<circle cx="1588.20" cy="1818.90" r="6.1" fill="#000"/>
<circle cx="1601.00" cy="1825.70" r="6.1" fill="#000"/>
<circle cx="1667.70" cy="1899.10" r="6.1" fill="#000"/>
<circle cx="1681.00" cy="1881.40" r="6.1" fill="#000"/>
<circle cx="1694.20" cy="1894.00" r="6.1" fill="#000"/>
<circle cx="1723.70" cy="1667.70" r="6.1" fill="#000"/>
<circle cx="1737.40" cy="1613.90" r="6.1" fill="#000"/>
<circle cx="1750.70" cy="1658.20" r="6.1" fill="#000"/>
<circle cx="1830.40" cy="1591.80" r="6.1" fill="#000"/>
<circle cx="1830.40" cy="1635.00" r="6.1" fill="#000"/>
<circle cx="1830.40" cy="1656.00" r="6.1" fill="#000"/>
<circle cx="1872.50" cy="1656.00" r="6.1" fill="#000"/>
<circle cx="1886.40" cy="1605.10" r="6.1" fill="#000"/>
<circle cx="1899.50" cy="1645.60" r="6.1" fill="#000"/>
<text transform="translate(1503.3 1776.1) scale(0.883 1)" font-size="40.6" text-anchor="start">Cas13a</text>
<text transform="translate(1634.2 1599.3) scale(0.883 1)" font-size="40.6" text-anchor="start">SCas12a</text>
<text transform="translate(1859.7 1518.5) scale(0.883 1)" font-size="40.6" text-anchor="middle">Asymmetric</text>
<text transform="translate(1859.2 1562.4) scale(0.883 1)" font-size="40.6" text-anchor="middle">CRISPR</text>
<text x="0" y="0" font-size="40.1" text-anchor="end" transform="translate(1518.00 1950.00) rotate(-38.7)">Pre miR-21</text>
<text x="0" y="0" font-size="40.1" text-anchor="end" transform="translate(1609.40 1933.00) rotate(-38.7)">Mature miR-21</text>
<text x="0" y="0" font-size="40.1" text-anchor="end" transform="translate(1695.90 1934.60) rotate(-38.7)">Pre miR-21</text>
<text x="0" y="0" font-size="40.1" text-anchor="end" transform="translate(1758.50 1942.60) rotate(-38.7)">Mature miR-21</text>
<text x="0" y="0" font-size="40.1" text-anchor="end" transform="translate(1843.50 1934.60) rotate(-38.7)">Pre miR-21</text>
<text x="0" y="0" font-size="40.1" text-anchor="end" transform="translate(1914.00 1942.60) rotate(-38.7)">Mature miR-21</text>
<text x="-3.40" y="52.00" font-size="81">a</text>
<text x="741.00" y="58.70" font-size="83">b</text>
<text x="1435.50" y="59.30" font-size="81.5">c</text>
<text x="-2.40" y="787.90" font-size="82.5">d</text>
<text x="1287.70" y="788.40" font-size="83">e</text>
<text x="-2.20" y="1436.90" font-size="82.5">f</text>
<text x="1242.40" y="1436.90" font-size="82.5">g</text>
</svg>
</body></html>
